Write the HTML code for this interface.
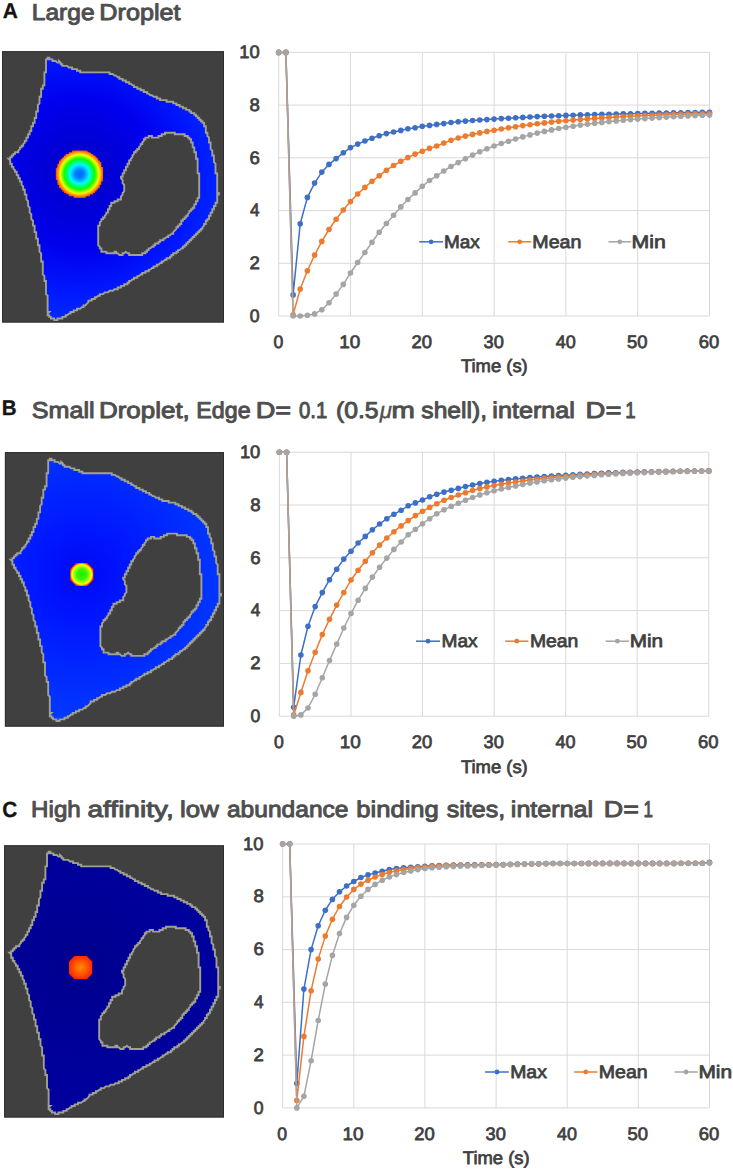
<!DOCTYPE html>
<html><head><meta charset="utf-8"><title>Figure</title>
<style>
html,body{margin:0;padding:0;background:#fff;}
svg{display:block;}
text{font-family:"Liberation Sans",sans-serif;text-rendering:geometricPrecision;}
</style></head><body>
<svg width="733" height="1169" viewBox="0 0 733 1169">
<defs>
<filter id="soft" color-interpolation-filters="sRGB" x="-5%" y="-5%" width="110%" height="110%"><feGaussianBlur stdDeviation="0.45"/></filter>
<radialGradient id="cA" gradientUnits="userSpaceOnUse" cx="77.6" cy="122.6" r="170">
<stop offset="0" stop-color="#0000cc"/><stop offset="0.2" stop-color="#0000d6"/><stop offset="0.45" stop-color="#0000ee"/>
<stop offset="0.7" stop-color="#0018ff"/><stop offset="1" stop-color="#0038ff"/>
</radialGradient>
<radialGradient id="cB" gradientUnits="userSpaceOnUse" cx="77.6" cy="122.6" r="170">
<stop offset="0" stop-color="#0008f4"/><stop offset="0.3" stop-color="#0018ff"/><stop offset="0.7" stop-color="#0030ff"/><stop offset="1" stop-color="#0040ff"/>
</radialGradient>
<radialGradient id="cC" gradientUnits="userSpaceOnUse" cx="77.6" cy="122.6" r="170">
<stop offset="0" stop-color="#00008c"/><stop offset="0.4" stop-color="#000098"/><stop offset="1" stop-color="#0000a0"/>
</radialGradient>
<radialGradient id="dA" gradientUnits="userSpaceOnUse" cx="77.6" cy="122.8" r="24.2">
<stop offset="0" stop-color="#0068ff"/><stop offset="0.18" stop-color="#0080ff"/><stop offset="0.4" stop-color="#00f8ff"/>
<stop offset="0.52" stop-color="#00ff70"/><stop offset="0.64" stop-color="#10ff00"/><stop offset="0.8" stop-color="#f0ff00"/>
<stop offset="0.9" stop-color="#ff9800"/><stop offset="1" stop-color="#ff3800"/>
</radialGradient>
<radialGradient id="dB" gradientUnits="userSpaceOnUse" cx="77.6" cy="122.39999999999999" r="12.2">
<stop offset="0" stop-color="#10f000"/><stop offset="0.42" stop-color="#40f400"/><stop offset="0.66" stop-color="#a8ff00"/>
<stop offset="0.8" stop-color="#ffff10"/><stop offset="0.89" stop-color="#ffa000"/><stop offset="0.97" stop-color="#ff3000"/><stop offset="1" stop-color="#ff2000"/>
</radialGradient>
<radialGradient id="dC" gradientUnits="userSpaceOnUse" cx="77.6" cy="122.39999999999999" r="13.2">
<stop offset="0" stop-color="#ff8c00"/><stop offset="0.5" stop-color="#ff5800"/><stop offset="1" stop-color="#ff1c00"/>
</radialGradient>
</defs>
<rect width="733" height="1169" fill="#ffffff"/>
<text transform="translate(2.71,18.30) scale(0.9793,1)" font-size="21.3" font-weight="bold" fill="#141414" stroke="#141414" stroke-width="0.3">A</text>
<text transform="translate(31.78,19.90) scale(1.0773,1)" font-size="22.8" fill="#4e4e4e" stroke="#4e4e4e" stroke-width="0.95" stroke-linejoin="round">Large</text>
<text transform="translate(99.34,19.90) scale(1.1059,1)" font-size="22.8" fill="#4e4e4e" stroke="#4e4e4e" stroke-width="0.95" stroke-linejoin="round">Droplet</text>
<text transform="translate(1.69,414.95) scale(0.9660,1)" font-size="21.3" font-weight="bold" fill="#141414" stroke="#141414" stroke-width="0.3">B</text>
<text transform="translate(31.85,417.70) scale(1.1027,1)" font-size="22.8" fill="#4e4e4e" stroke="#4e4e4e" stroke-width="0.95" stroke-linejoin="round">Small</text>
<text transform="translate(98.99,417.70) scale(1.1375,1)" font-size="22.8" fill="#4e4e4e" stroke="#4e4e4e" stroke-width="0.95" stroke-linejoin="round">Droplet,</text>
<text transform="translate(196.37,417.70) scale(1.0185,1)" font-size="22.8" fill="#4e4e4e" stroke="#4e4e4e" stroke-width="0.95" stroke-linejoin="round">Edge</text>
<text transform="translate(255.72,417.70) scale(1.1891,1)" font-size="22.8" fill="#4e4e4e" stroke="#4e4e4e" stroke-width="0.95" stroke-linejoin="round">D=</text>
<text transform="translate(299.05,417.70) scale(0.8918,1)" font-size="22.8" fill="#4e4e4e" stroke="#4e4e4e" stroke-width="0.95" stroke-linejoin="round">0.1</text>
<text transform="translate(335.92,417.70) scale(1.0834,1)" font-size="22.8" fill="#4e4e4e" stroke="#4e4e4e" stroke-width="0.95" stroke-linejoin="round">(0.5</text>
<text transform="translate(379.63,417.70) scale(0.9692,1)" font-size="22.8" font-style="italic" fill="#505050" stroke="#505050" stroke-width="0.4">μ</text>
<text transform="translate(391.57,417.70) scale(1.2294,1)" font-size="22.8" fill="#4e4e4e" stroke="#4e4e4e" stroke-width="0.95" stroke-linejoin="round">m</text>
<text transform="translate(421.33,417.70) scale(1.0797,1)" font-size="22.8" fill="#4e4e4e" stroke="#4e4e4e" stroke-width="0.95" stroke-linejoin="round">shell),</text>
<text transform="translate(492.29,417.70) scale(1.1052,1)" font-size="22.8" fill="#4e4e4e" stroke="#4e4e4e" stroke-width="0.95" stroke-linejoin="round">internal</text>
<text transform="translate(585.59,417.70) scale(1.2036,1)" font-size="22.8" fill="#4e4e4e" stroke="#4e4e4e" stroke-width="0.95" stroke-linejoin="round">D=</text>
<text transform="translate(625.18,417.70) scale(0.8186,1)" font-size="22.8" fill="#4e4e4e" stroke="#4e4e4e" stroke-width="0.95" stroke-linejoin="round">1</text>
<text transform="translate(2.19,817.30) scale(0.9424,1)" font-size="22" font-weight="bold" fill="#141414" stroke="#141414" stroke-width="0.3">C</text>
<text transform="translate(31.11,816.95) scale(1.0599,1)" font-size="22.8" fill="#4e4e4e" stroke="#4e4e4e" stroke-width="0.95" stroke-linejoin="round">High</text>
<text transform="translate(87.49,816.95) scale(1.2294,1)" font-size="22.8" fill="#4e4e4e" stroke="#4e4e4e" stroke-width="0.95" stroke-linejoin="round">affinity,</text>
<text transform="translate(180.07,816.95) scale(1.1319,1)" font-size="22.8" fill="#4e4e4e" stroke="#4e4e4e" stroke-width="0.95" stroke-linejoin="round">low</text>
<text transform="translate(226.96,816.95) scale(1.0774,1)" font-size="22.8" fill="#4e4e4e" stroke="#4e4e4e" stroke-width="0.95" stroke-linejoin="round">abundance</text>
<text transform="translate(356.28,816.95) scale(1.1217,1)" font-size="22.8" fill="#4e4e4e" stroke="#4e4e4e" stroke-width="0.95" stroke-linejoin="round">binding</text>
<text transform="translate(446.73,816.95) scale(1.0985,1)" font-size="22.8" fill="#4e4e4e" stroke="#4e4e4e" stroke-width="0.95" stroke-linejoin="round">sites,</text>
<text transform="translate(510.80,816.95) scale(1.1010,1)" font-size="22.8" fill="#4e4e4e" stroke="#4e4e4e" stroke-width="0.95" stroke-linejoin="round">internal</text>
<text transform="translate(603.83,816.95) scale(1.1782,1)" font-size="22.8" fill="#4e4e4e" stroke="#4e4e4e" stroke-width="0.95" stroke-linejoin="round">D=</text>
<text transform="translate(643.47,816.95) scale(0.7442,1)" font-size="22.8" fill="#4e4e4e" stroke="#4e4e4e" stroke-width="0.95" stroke-linejoin="round">1</text>
<g>
<rect x="2.0" y="51.2" width="222.0" height="271.3" fill="#404040"/>
<rect x="2.5" y="51.7" width="221.0" height="270.3" fill="none" stroke="#2f2f2f" stroke-width="1"/>
<g transform="translate(2.0,51.2)" filter="url(#soft)">
<path d="M45.6,6.5 L47.3,6.5 L47.3,8.2 L48.9,8.2 L50.5,8.2 L50.5,9.8 L52.2,9.8 L53.8,9.8 L55.4,11.4 L57.0,11.4 L57.0,9.8 L58.7,11.4 L58.7,13.0 L60.3,13.0 L60.3,14.7 L61.9,14.7 L63.6,14.7 L65.2,14.7 L66.8,16.3 L68.5,16.3 L70.1,16.3 L70.1,17.9 L71.7,17.9 L73.3,17.9 L75.0,17.9 L75.0,19.6 L76.6,19.6 L78.2,19.6 L78.2,21.2 L79.9,21.2 L81.5,21.2 L83.1,21.2 L84.8,21.2 L86.4,21.2 L88.0,21.2 L89.7,21.2 L91.3,21.2 L92.9,21.2 L94.5,21.2 L96.2,21.2 L97.8,21.2 L99.4,21.2 L101.1,21.2 L102.7,21.2 L104.3,21.2 L106.0,21.2 L107.6,21.2 L107.6,22.8 L109.2,22.8 L110.8,22.8 L112.5,24.4 L114.1,24.4 L115.7,26.1 L117.4,26.1 L117.4,27.7 L119.0,27.7 L120.6,27.7 L120.6,29.3 L122.2,29.3 L123.9,29.3 L123.9,31.0 L125.5,31.0 L127.1,31.0 L127.1,32.6 L128.8,32.6 L130.4,34.2 L132.0,34.2 L132.0,35.9 L133.7,35.9 L135.3,35.9 L135.3,37.5 L136.9,37.5 L138.6,37.5 L138.6,39.1 L140.2,39.1 L141.8,39.1 L141.8,40.8 L143.4,40.8 L145.1,40.8 L145.1,42.4 L146.7,42.4 L148.3,44.0 L150.0,44.0 L151.6,45.6 L153.2,45.6 L154.8,45.6 L154.8,47.3 L156.5,47.3 L158.1,47.3 L158.1,48.9 L159.7,48.9 L161.4,48.9 L163.0,48.9 L164.6,48.9 L164.6,50.5 L166.3,50.5 L167.9,50.5 L169.5,50.5 L171.2,50.5 L171.2,52.2 L172.8,52.2 L174.4,52.2 L174.4,53.8 L176.0,53.8 L177.7,53.8 L177.7,55.4 L179.3,55.4 L180.9,55.4 L180.9,57.0 L182.6,57.0 L184.2,57.0 L184.2,58.7 L185.8,58.7 L187.4,58.7 L187.4,60.3 L189.1,60.3 L189.1,61.9 L190.7,61.9 L192.3,61.9 L192.3,63.6 L194.0,63.6 L194.0,65.2 L195.6,65.2 L195.6,66.8 L197.2,66.8 L197.2,68.5 L198.9,68.5 L198.9,70.1 L200.5,70.1 L200.5,71.7 L202.1,71.7 L202.1,73.3 L202.1,75.0 L203.8,75.0 L203.8,76.6 L203.8,78.2 L203.8,79.9 L203.8,81.5 L205.4,81.5 L205.4,83.1 L205.4,84.8 L207.0,86.4 L207.0,88.0 L207.0,89.7 L207.0,91.3 L208.6,91.3 L208.6,92.9 L208.6,94.5 L208.6,96.2 L208.6,97.8 L210.3,99.4 L210.3,101.1 L210.3,102.7 L210.3,104.3 L211.9,104.3 L211.9,106.0 L211.9,107.6 L211.9,109.2 L211.9,110.8 L213.5,112.5 L213.5,114.1 L213.5,115.7 L213.5,117.4 L213.5,119.0 L213.5,120.6 L213.5,122.2 L215.2,122.2 L215.2,123.9 L215.2,125.5 L215.2,127.1 L215.2,128.8 L215.2,130.4 L215.2,132.0 L215.2,133.7 L215.2,135.3 L215.2,136.9 L215.2,138.6 L215.2,140.2 L215.2,141.8 L216.8,141.8 L216.8,143.4 L215.2,143.4 L215.2,145.1 L215.2,146.7 L215.2,148.3 L215.2,150.0 L215.2,151.6 L213.5,151.6 L213.5,153.2 L213.5,154.8 L211.9,154.8 L211.9,156.5 L211.9,158.1 L210.3,158.1 L210.3,159.7 L210.3,161.4 L208.6,161.4 L208.6,163.0 L208.6,164.6 L207.0,164.6 L207.0,166.3 L207.0,167.9 L205.4,167.9 L205.4,169.5 L203.8,169.5 L203.8,171.2 L203.8,172.8 L202.1,172.8 L202.1,174.4 L200.5,176.0 L200.5,177.7 L198.9,177.7 L198.9,179.3 L197.2,179.3 L197.2,180.9 L195.6,180.9 L195.6,182.6 L194.0,182.6 L194.0,184.2 L192.3,184.2 L192.3,185.8 L190.7,185.8 L190.7,187.4 L189.1,187.4 L189.1,189.1 L187.4,189.1 L187.4,190.7 L185.8,190.7 L185.8,192.3 L184.2,192.3 L184.2,194.0 L182.6,194.0 L182.6,195.6 L180.9,195.6 L180.9,197.2 L179.3,197.2 L177.7,198.9 L176.0,198.9 L176.0,200.5 L174.4,200.5 L174.4,202.1 L172.8,202.1 L171.2,202.1 L171.2,203.8 L169.5,203.8 L169.5,205.4 L167.9,205.4 L167.9,207.0 L166.3,207.0 L164.6,207.0 L164.6,208.6 L163.0,208.6 L161.4,210.3 L159.7,210.3 L159.7,211.9 L158.1,211.9 L156.5,213.5 L154.8,213.5 L154.8,215.2 L153.2,215.2 L151.6,215.2 L151.6,216.8 L150.0,216.8 L148.3,218.4 L146.7,218.4 L146.7,220.1 L145.1,220.1 L143.4,220.1 L143.4,221.7 L141.8,221.7 L140.2,221.7 L140.2,223.3 L138.6,223.3 L136.9,224.9 L135.3,224.9 L135.3,226.6 L133.7,226.6 L132.0,226.6 L132.0,228.2 L130.4,228.2 L128.8,229.8 L127.1,229.8 L127.1,231.5 L125.5,231.5 L125.5,233.1 L123.9,233.1 L122.2,233.1 L122.2,234.7 L120.6,234.7 L119.0,234.7 L119.0,236.3 L117.4,236.3 L115.7,236.3 L115.7,238.0 L114.1,238.0 L112.5,238.0 L110.8,239.6 L109.2,239.6 L107.6,239.6 L106.0,241.2 L104.3,241.2 L102.7,241.2 L101.1,242.9 L99.4,242.9 L97.8,242.9 L97.8,244.5 L96.2,244.5 L94.5,246.1 L92.9,246.1 L92.9,247.8 L91.3,247.8 L89.7,247.8 L89.7,249.4 L88.0,249.4 L86.4,249.4 L86.4,251.0 L84.8,252.7 L83.1,254.3 L81.5,254.3 L81.5,255.9 L79.9,255.9 L78.2,257.5 L76.6,257.5 L75.0,257.5 L75.0,259.2 L73.3,259.2 L71.7,259.2 L71.7,260.8 L70.1,260.8 L68.5,260.8 L68.5,262.4 L66.8,262.4 L65.2,264.1 L63.6,264.1 L63.6,265.7 L61.9,265.7 L60.3,265.7 L60.3,267.3 L58.7,267.3 L57.0,267.3 L55.4,267.3 L55.4,268.9 L53.8,268.9 L52.2,268.9 L52.2,267.3 L50.5,267.3 L48.9,267.3 L48.9,265.7 L47.3,265.7 L47.3,264.1 L45.6,264.1 L45.6,262.4 L47.3,260.8 L45.6,260.8 L45.6,259.2 L45.6,257.5 L45.6,255.9 L45.6,254.3 L45.6,252.7 L45.6,251.0 L45.6,249.4 L45.6,247.8 L45.6,246.1 L45.6,244.5 L44.0,242.9 L44.0,241.2 L44.0,239.6 L44.0,238.0 L44.0,236.3 L44.0,234.7 L44.0,233.1 L44.0,231.5 L44.0,229.8 L42.4,229.8 L42.4,228.2 L42.4,226.6 L42.4,224.9 L40.8,223.3 L40.8,221.7 L40.8,220.1 L40.8,218.4 L40.8,216.8 L40.8,215.2 L40.8,213.5 L40.8,211.9 L40.8,210.3 L39.1,210.3 L39.1,208.6 L39.1,207.0 L39.1,205.4 L39.1,203.8 L39.1,202.1 L37.5,200.5 L37.5,198.9 L37.5,197.2 L37.5,195.6 L37.5,194.0 L35.9,194.0 L35.9,192.3 L35.9,190.7 L35.9,189.1 L35.9,187.4 L34.2,187.4 L34.2,185.8 L34.2,184.2 L34.2,182.6 L34.2,180.9 L32.6,180.9 L32.6,179.3 L32.6,177.7 L32.6,176.0 L32.6,174.4 L31.0,174.4 L31.0,172.8 L31.0,171.2 L31.0,169.5 L29.3,167.9 L29.3,166.3 L29.3,164.6 L29.3,163.0 L27.7,161.4 L27.7,159.7 L27.7,158.1 L27.7,156.5 L26.1,154.8 L26.1,153.2 L26.1,151.6 L26.1,150.0 L24.4,148.3 L24.4,146.7 L24.4,145.1 L24.4,143.4 L22.8,143.4 L22.8,141.8 L22.8,140.2 L22.8,138.6 L21.2,138.6 L21.2,136.9 L21.2,135.3 L19.6,133.7 L19.6,132.0 L19.6,130.4 L17.9,130.4 L17.9,128.8 L17.9,127.1 L16.3,127.1 L16.3,125.5 L16.3,123.9 L14.7,123.9 L14.7,122.2 L14.7,120.6 L13.0,120.6 L13.0,119.0 L11.4,117.4 L11.4,115.7 L9.8,115.7 L9.8,114.1 L9.8,112.5 L8.2,112.5 L8.2,110.8 L8.2,109.2 L6.5,107.6 L8.2,107.6 L8.2,106.0 L9.8,106.0 L9.8,104.3 L11.4,104.3 L11.4,102.7 L13.0,102.7 L13.0,101.1 L14.7,101.1 L16.3,101.1 L16.3,99.4 L17.9,97.8 L17.9,96.2 L19.6,96.2 L19.6,94.5 L21.2,94.5 L21.2,92.9 L22.8,91.3 L22.8,89.7 L24.4,89.7 L24.4,88.0 L24.4,86.4 L26.1,86.4 L26.1,84.8 L26.1,83.1 L27.7,83.1 L27.7,81.5 L27.7,79.9 L29.3,79.9 L29.3,78.2 L29.3,76.6 L29.3,75.0 L31.0,75.0 L31.0,73.3 L31.0,71.7 L32.6,71.7 L32.6,70.1 L32.6,68.5 L32.6,66.8 L34.2,66.8 L34.2,65.2 L34.2,63.6 L34.2,61.9 L34.2,60.3 L35.9,60.3 L35.9,58.7 L35.9,57.0 L35.9,55.4 L35.9,53.8 L37.5,52.2 L37.5,50.5 L37.5,48.9 L37.5,47.3 L37.5,45.6 L39.1,45.6 L39.1,44.0 L39.1,42.4 L39.1,40.8 L39.1,39.1 L39.1,37.5 L40.8,37.5 L40.8,35.9 L40.8,34.2 L42.4,34.2 L42.4,32.6 L42.4,31.0 L42.4,29.3 L42.4,27.7 L42.4,26.1 L42.4,24.4 L42.4,22.8 L42.4,21.2 L44.0,21.2 L44.0,19.6 L44.0,17.9 L44.0,16.3 L44.0,14.7 L44.0,13.0 L44.0,11.4 L44.0,9.8 L44.0,8.2 L45.6,8.2 L45.6,6.5Z M119.0,127.1 L119.0,125.5 L120.6,125.5 L120.6,123.9 L120.6,122.2 L122.2,122.2 L122.2,120.6 L122.2,119.0 L123.9,119.0 L123.9,117.4 L123.9,115.7 L125.5,115.7 L125.5,114.1 L125.5,112.5 L127.1,112.5 L127.1,110.8 L127.1,109.2 L128.8,109.2 L128.8,107.6 L130.4,106.0 L130.4,104.3 L132.0,102.7 L132.0,101.1 L133.7,101.1 L133.7,99.4 L135.3,99.4 L135.3,97.8 L136.9,97.8 L136.9,96.2 L138.6,94.5 L138.6,92.9 L140.2,92.9 L140.2,91.3 L141.8,89.7 L141.8,88.0 L143.4,88.0 L143.4,86.4 L145.1,86.4 L146.7,86.4 L146.7,84.8 L148.3,84.8 L150.0,84.8 L150.0,86.4 L151.6,86.4 L153.2,86.4 L154.8,86.4 L156.5,86.4 L156.5,84.8 L158.1,84.8 L159.7,84.8 L159.7,83.1 L161.4,83.1 L163.0,83.1 L163.0,81.5 L164.6,81.5 L166.3,81.5 L167.9,81.5 L169.5,81.5 L171.2,81.5 L172.8,81.5 L172.8,83.1 L174.4,83.1 L176.0,83.1 L177.7,83.1 L179.3,83.1 L180.9,83.1 L182.6,83.1 L182.6,84.8 L184.2,84.8 L185.8,84.8 L185.8,86.4 L187.4,86.4 L187.4,88.0 L189.1,88.0 L189.1,89.7 L189.1,91.3 L190.7,91.3 L190.7,92.9 L190.7,94.5 L190.7,96.2 L192.3,96.2 L192.3,97.8 L192.3,99.4 L192.3,101.1 L194.0,101.1 L194.0,102.7 L194.0,104.3 L194.0,106.0 L194.0,107.6 L195.6,107.6 L195.6,109.2 L195.6,110.8 L195.6,112.5 L195.6,114.1 L195.6,115.7 L195.6,117.4 L195.6,119.0 L195.6,120.6 L195.6,122.2 L197.2,122.2 L197.2,123.9 L197.2,125.5 L197.2,127.1 L197.2,128.8 L197.2,130.4 L197.2,132.0 L197.2,133.7 L197.2,135.3 L197.2,136.9 L197.2,138.6 L197.2,140.2 L197.2,141.8 L197.2,143.4 L197.2,145.1 L197.2,146.7 L195.6,146.7 L195.6,148.3 L195.6,150.0 L194.0,150.0 L194.0,151.6 L194.0,153.2 L192.3,153.2 L192.3,154.8 L192.3,156.5 L190.7,156.5 L190.7,158.1 L189.1,158.1 L189.1,159.7 L187.4,159.7 L187.4,161.4 L185.8,163.0 L185.8,164.6 L184.2,164.6 L184.2,166.3 L182.6,166.3 L182.6,167.9 L180.9,167.9 L180.9,169.5 L179.3,169.5 L179.3,171.2 L179.3,172.8 L177.7,172.8 L177.7,174.4 L176.0,174.4 L176.0,176.0 L174.4,176.0 L174.4,177.7 L172.8,179.3 L171.2,180.9 L171.2,182.6 L169.5,182.6 L167.9,184.2 L166.3,184.2 L166.3,185.8 L164.6,185.8 L163.0,187.4 L161.4,187.4 L161.4,189.1 L159.7,189.1 L158.1,189.1 L158.1,190.7 L156.5,190.7 L156.5,192.3 L154.8,192.3 L153.2,192.3 L153.2,194.0 L151.6,194.0 L151.6,195.6 L150.0,195.6 L148.3,197.2 L146.7,197.2 L146.7,198.9 L145.1,198.9 L145.1,200.5 L143.4,200.5 L143.4,202.1 L141.8,202.1 L140.2,202.1 L140.2,203.8 L138.6,203.8 L136.9,203.8 L135.3,203.8 L133.7,203.8 L132.0,203.8 L130.4,203.8 L128.8,203.8 L127.1,203.8 L127.1,202.1 L125.5,202.1 L123.9,200.5 L122.2,202.1 L120.6,202.1 L120.6,203.8 L119.0,203.8 L117.4,203.8 L115.7,202.1 L114.1,202.1 L114.1,200.5 L112.5,200.5 L112.5,202.1 L110.8,202.1 L109.2,202.1 L107.6,202.1 L106.0,202.1 L104.3,202.1 L104.3,200.5 L102.7,200.5 L101.1,200.5 L99.4,200.5 L99.4,198.9 L99.4,197.2 L97.8,197.2 L97.8,195.6 L96.2,194.0 L96.2,192.3 L96.2,190.7 L96.2,189.1 L96.2,187.4 L96.2,185.8 L96.2,184.2 L96.2,182.6 L96.2,180.9 L96.2,179.3 L96.2,177.7 L96.2,176.0 L96.2,174.4 L97.8,174.4 L97.8,172.8 L97.8,171.2 L99.4,169.5 L99.4,167.9 L101.1,167.9 L101.1,166.3 L102.7,166.3 L102.7,164.6 L104.3,163.0 L104.3,161.4 L106.0,161.4 L106.0,159.7 L106.0,158.1 L107.6,158.1 L107.6,156.5 L107.6,154.8 L109.2,154.8 L109.2,153.2 L109.2,151.6 L110.8,151.6 L112.5,151.6 L112.5,150.0 L114.1,150.0 L115.7,150.0 L115.7,148.3 L117.4,148.3 L119.0,148.3 L119.0,146.7 L119.0,145.1 L120.6,143.4 L120.6,141.8 L122.2,140.2 L122.2,138.6 L122.2,136.9 L122.2,135.3 L122.2,133.7 L120.6,132.0 L120.6,130.4 L120.6,128.8 L119.0,127.1Z" fill="url(#cA)" fill-rule="evenodd" stroke="#a0a093" stroke-width="1.9" stroke-linejoin="miter"/>
<path d="M101.1,122.2 L101.1,123.9 L101.1,125.5 L101.1,127.1 L101.1,128.8 L101.1,130.4 L99.4,130.4 L99.4,132.0 L99.4,133.7 L97.8,133.7 L97.8,135.3 L97.8,136.9 L96.2,136.9 L96.2,138.6 L94.5,138.6 L94.5,140.2 L92.9,140.2 L92.9,141.8 L91.3,141.8 L91.3,143.4 L89.7,143.4 L88.0,143.4 L88.0,145.1 L86.4,145.1 L84.8,145.1 L83.1,146.7 L81.5,146.7 L79.9,146.7 L78.2,146.7 L76.6,146.7 L75.0,146.7 L73.3,146.7 L71.7,146.7 L71.7,145.1 L70.1,145.1 L68.5,145.1 L66.8,145.1 L66.8,143.4 L65.2,143.4 L63.6,141.8 L61.9,141.8 L61.9,140.2 L60.3,140.2 L60.3,138.6 L58.7,138.6 L58.7,136.9 L57.0,136.9 L57.0,135.3 L57.0,133.7 L55.4,133.7 L55.4,132.0 L55.4,130.4 L55.4,128.8 L53.8,128.8 L53.8,127.1 L53.8,125.5 L53.8,123.9 L53.8,122.2 L53.8,120.6 L53.8,119.0 L53.8,117.4 L55.4,115.7 L55.4,114.1 L55.4,112.5 L57.0,112.5 L57.0,110.8 L57.0,109.2 L58.7,109.2 L58.7,107.6 L60.3,107.6 L60.3,106.0 L61.9,106.0 L61.9,104.3 L63.6,104.3 L63.6,102.7 L65.2,102.7 L66.8,102.7 L66.8,101.1 L68.5,101.1 L70.1,101.1 L70.1,99.4 L71.7,99.4 L73.3,99.4 L75.0,99.4 L76.6,99.4 L78.2,99.4 L79.9,99.4 L81.5,99.4 L83.1,99.4 L84.8,99.4 L86.4,101.1 L88.0,101.1 L89.7,102.7 L91.3,102.7 L91.3,104.3 L92.9,104.3 L94.5,106.0 L96.2,107.6 L96.2,109.2 L97.8,109.2 L97.8,110.8 L99.4,110.8 L99.4,112.5 L99.4,114.1 L99.4,115.7 L101.1,115.7 L101.1,117.4 L101.1,119.0 L101.1,120.6 L101.1,122.2Z" fill="url(#dA)"/>
</g>
</g>
<g>
<rect x="4.9" y="452.1" width="219.1" height="274.5" fill="#404040"/>
<rect x="5.4" y="452.6" width="218.1" height="273.5" fill="none" stroke="#2f2f2f" stroke-width="1"/>
<g transform="translate(4.2,452.1)" filter="url(#soft)">
<path d="M45.6,6.5 L47.3,6.5 L47.3,8.2 L48.9,8.2 L50.5,8.2 L50.5,9.8 L52.2,9.8 L53.8,9.8 L55.4,11.4 L57.0,11.4 L57.0,9.8 L58.7,11.4 L58.7,13.0 L60.3,13.0 L60.3,14.7 L61.9,14.7 L63.6,14.7 L65.2,14.7 L66.8,16.3 L68.5,16.3 L70.1,16.3 L70.1,17.9 L71.7,17.9 L73.3,17.9 L75.0,17.9 L75.0,19.6 L76.6,19.6 L78.2,19.6 L78.2,21.2 L79.9,21.2 L81.5,21.2 L83.1,21.2 L84.8,21.2 L86.4,21.2 L88.0,21.2 L89.7,21.2 L91.3,21.2 L92.9,21.2 L94.5,21.2 L96.2,21.2 L97.8,21.2 L99.4,21.2 L101.1,21.2 L102.7,21.2 L104.3,21.2 L106.0,21.2 L107.6,21.2 L107.6,22.8 L109.2,22.8 L110.8,22.8 L112.5,24.4 L114.1,24.4 L115.7,26.1 L117.4,26.1 L117.4,27.7 L119.0,27.7 L120.6,27.7 L120.6,29.3 L122.2,29.3 L123.9,29.3 L123.9,31.0 L125.5,31.0 L127.1,31.0 L127.1,32.6 L128.8,32.6 L130.4,34.2 L132.0,34.2 L132.0,35.9 L133.7,35.9 L135.3,35.9 L135.3,37.5 L136.9,37.5 L138.6,37.5 L138.6,39.1 L140.2,39.1 L141.8,39.1 L141.8,40.8 L143.4,40.8 L145.1,40.8 L145.1,42.4 L146.7,42.4 L148.3,44.0 L150.0,44.0 L151.6,45.6 L153.2,45.6 L154.8,45.6 L154.8,47.3 L156.5,47.3 L158.1,47.3 L158.1,48.9 L159.7,48.9 L161.4,48.9 L163.0,48.9 L164.6,48.9 L164.6,50.5 L166.3,50.5 L167.9,50.5 L169.5,50.5 L171.2,50.5 L171.2,52.2 L172.8,52.2 L174.4,52.2 L174.4,53.8 L176.0,53.8 L177.7,53.8 L177.7,55.4 L179.3,55.4 L180.9,55.4 L180.9,57.0 L182.6,57.0 L184.2,57.0 L184.2,58.7 L185.8,58.7 L187.4,58.7 L187.4,60.3 L189.1,60.3 L189.1,61.9 L190.7,61.9 L192.3,61.9 L192.3,63.6 L194.0,63.6 L194.0,65.2 L195.6,65.2 L195.6,66.8 L197.2,66.8 L197.2,68.5 L198.9,68.5 L198.9,70.1 L200.5,70.1 L200.5,71.7 L202.1,71.7 L202.1,73.3 L202.1,75.0 L203.8,75.0 L203.8,76.6 L203.8,78.2 L203.8,79.9 L203.8,81.5 L205.4,81.5 L205.4,83.1 L205.4,84.8 L207.0,86.4 L207.0,88.0 L207.0,89.7 L207.0,91.3 L208.6,91.3 L208.6,92.9 L208.6,94.5 L208.6,96.2 L208.6,97.8 L210.3,99.4 L210.3,101.1 L210.3,102.7 L210.3,104.3 L211.9,104.3 L211.9,106.0 L211.9,107.6 L211.9,109.2 L211.9,110.8 L213.5,112.5 L213.5,114.1 L213.5,115.7 L213.5,117.4 L213.5,119.0 L213.5,120.6 L213.5,122.2 L215.2,122.2 L215.2,123.9 L215.2,125.5 L215.2,127.1 L215.2,128.8 L215.2,130.4 L215.2,132.0 L215.2,133.7 L215.2,135.3 L215.2,136.9 L215.2,138.6 L215.2,140.2 L215.2,141.8 L216.8,141.8 L216.8,143.4 L215.2,143.4 L215.2,145.1 L215.2,146.7 L215.2,148.3 L215.2,150.0 L215.2,151.6 L213.5,151.6 L213.5,153.2 L213.5,154.8 L211.9,154.8 L211.9,156.5 L211.9,158.1 L210.3,158.1 L210.3,159.7 L210.3,161.4 L208.6,161.4 L208.6,163.0 L208.6,164.6 L207.0,164.6 L207.0,166.3 L207.0,167.9 L205.4,167.9 L205.4,169.5 L203.8,169.5 L203.8,171.2 L203.8,172.8 L202.1,172.8 L202.1,174.4 L200.5,176.0 L200.5,177.7 L198.9,177.7 L198.9,179.3 L197.2,179.3 L197.2,180.9 L195.6,180.9 L195.6,182.6 L194.0,182.6 L194.0,184.2 L192.3,184.2 L192.3,185.8 L190.7,185.8 L190.7,187.4 L189.1,187.4 L189.1,189.1 L187.4,189.1 L187.4,190.7 L185.8,190.7 L185.8,192.3 L184.2,192.3 L184.2,194.0 L182.6,194.0 L182.6,195.6 L180.9,195.6 L180.9,197.2 L179.3,197.2 L177.7,198.9 L176.0,198.9 L176.0,200.5 L174.4,200.5 L174.4,202.1 L172.8,202.1 L171.2,202.1 L171.2,203.8 L169.5,203.8 L169.5,205.4 L167.9,205.4 L167.9,207.0 L166.3,207.0 L164.6,207.0 L164.6,208.6 L163.0,208.6 L161.4,210.3 L159.7,210.3 L159.7,211.9 L158.1,211.9 L156.5,213.5 L154.8,213.5 L154.8,215.2 L153.2,215.2 L151.6,215.2 L151.6,216.8 L150.0,216.8 L148.3,218.4 L146.7,218.4 L146.7,220.1 L145.1,220.1 L143.4,220.1 L143.4,221.7 L141.8,221.7 L140.2,221.7 L140.2,223.3 L138.6,223.3 L136.9,224.9 L135.3,224.9 L135.3,226.6 L133.7,226.6 L132.0,226.6 L132.0,228.2 L130.4,228.2 L128.8,229.8 L127.1,229.8 L127.1,231.5 L125.5,231.5 L125.5,233.1 L123.9,233.1 L122.2,233.1 L122.2,234.7 L120.6,234.7 L119.0,234.7 L119.0,236.3 L117.4,236.3 L115.7,236.3 L115.7,238.0 L114.1,238.0 L112.5,238.0 L110.8,239.6 L109.2,239.6 L107.6,239.6 L106.0,241.2 L104.3,241.2 L102.7,241.2 L101.1,242.9 L99.4,242.9 L97.8,242.9 L97.8,244.5 L96.2,244.5 L94.5,246.1 L92.9,246.1 L92.9,247.8 L91.3,247.8 L89.7,247.8 L89.7,249.4 L88.0,249.4 L86.4,249.4 L86.4,251.0 L84.8,252.7 L83.1,254.3 L81.5,254.3 L81.5,255.9 L79.9,255.9 L78.2,257.5 L76.6,257.5 L75.0,257.5 L75.0,259.2 L73.3,259.2 L71.7,259.2 L71.7,260.8 L70.1,260.8 L68.5,260.8 L68.5,262.4 L66.8,262.4 L65.2,264.1 L63.6,264.1 L63.6,265.7 L61.9,265.7 L60.3,265.7 L60.3,267.3 L58.7,267.3 L57.0,267.3 L55.4,267.3 L55.4,268.9 L53.8,268.9 L52.2,268.9 L52.2,267.3 L50.5,267.3 L48.9,267.3 L48.9,265.7 L47.3,265.7 L47.3,264.1 L45.6,264.1 L45.6,262.4 L47.3,260.8 L45.6,260.8 L45.6,259.2 L45.6,257.5 L45.6,255.9 L45.6,254.3 L45.6,252.7 L45.6,251.0 L45.6,249.4 L45.6,247.8 L45.6,246.1 L45.6,244.5 L44.0,242.9 L44.0,241.2 L44.0,239.6 L44.0,238.0 L44.0,236.3 L44.0,234.7 L44.0,233.1 L44.0,231.5 L44.0,229.8 L42.4,229.8 L42.4,228.2 L42.4,226.6 L42.4,224.9 L40.8,223.3 L40.8,221.7 L40.8,220.1 L40.8,218.4 L40.8,216.8 L40.8,215.2 L40.8,213.5 L40.8,211.9 L40.8,210.3 L39.1,210.3 L39.1,208.6 L39.1,207.0 L39.1,205.4 L39.1,203.8 L39.1,202.1 L37.5,200.5 L37.5,198.9 L37.5,197.2 L37.5,195.6 L37.5,194.0 L35.9,194.0 L35.9,192.3 L35.9,190.7 L35.9,189.1 L35.9,187.4 L34.2,187.4 L34.2,185.8 L34.2,184.2 L34.2,182.6 L34.2,180.9 L32.6,180.9 L32.6,179.3 L32.6,177.7 L32.6,176.0 L32.6,174.4 L31.0,174.4 L31.0,172.8 L31.0,171.2 L31.0,169.5 L29.3,167.9 L29.3,166.3 L29.3,164.6 L29.3,163.0 L27.7,161.4 L27.7,159.7 L27.7,158.1 L27.7,156.5 L26.1,154.8 L26.1,153.2 L26.1,151.6 L26.1,150.0 L24.4,148.3 L24.4,146.7 L24.4,145.1 L24.4,143.4 L22.8,143.4 L22.8,141.8 L22.8,140.2 L22.8,138.6 L21.2,138.6 L21.2,136.9 L21.2,135.3 L19.6,133.7 L19.6,132.0 L19.6,130.4 L17.9,130.4 L17.9,128.8 L17.9,127.1 L16.3,127.1 L16.3,125.5 L16.3,123.9 L14.7,123.9 L14.7,122.2 L14.7,120.6 L13.0,120.6 L13.0,119.0 L11.4,117.4 L11.4,115.7 L9.8,115.7 L9.8,114.1 L9.8,112.5 L8.2,112.5 L8.2,110.8 L8.2,109.2 L6.5,107.6 L8.2,107.6 L8.2,106.0 L9.8,106.0 L9.8,104.3 L11.4,104.3 L11.4,102.7 L13.0,102.7 L13.0,101.1 L14.7,101.1 L16.3,101.1 L16.3,99.4 L17.9,97.8 L17.9,96.2 L19.6,96.2 L19.6,94.5 L21.2,94.5 L21.2,92.9 L22.8,91.3 L22.8,89.7 L24.4,89.7 L24.4,88.0 L24.4,86.4 L26.1,86.4 L26.1,84.8 L26.1,83.1 L27.7,83.1 L27.7,81.5 L27.7,79.9 L29.3,79.9 L29.3,78.2 L29.3,76.6 L29.3,75.0 L31.0,75.0 L31.0,73.3 L31.0,71.7 L32.6,71.7 L32.6,70.1 L32.6,68.5 L32.6,66.8 L34.2,66.8 L34.2,65.2 L34.2,63.6 L34.2,61.9 L34.2,60.3 L35.9,60.3 L35.9,58.7 L35.9,57.0 L35.9,55.4 L35.9,53.8 L37.5,52.2 L37.5,50.5 L37.5,48.9 L37.5,47.3 L37.5,45.6 L39.1,45.6 L39.1,44.0 L39.1,42.4 L39.1,40.8 L39.1,39.1 L39.1,37.5 L40.8,37.5 L40.8,35.9 L40.8,34.2 L42.4,34.2 L42.4,32.6 L42.4,31.0 L42.4,29.3 L42.4,27.7 L42.4,26.1 L42.4,24.4 L42.4,22.8 L42.4,21.2 L44.0,21.2 L44.0,19.6 L44.0,17.9 L44.0,16.3 L44.0,14.7 L44.0,13.0 L44.0,11.4 L44.0,9.8 L44.0,8.2 L45.6,8.2 L45.6,6.5Z M119.0,127.1 L119.0,125.5 L120.6,125.5 L120.6,123.9 L120.6,122.2 L122.2,122.2 L122.2,120.6 L122.2,119.0 L123.9,119.0 L123.9,117.4 L123.9,115.7 L125.5,115.7 L125.5,114.1 L125.5,112.5 L127.1,112.5 L127.1,110.8 L127.1,109.2 L128.8,109.2 L128.8,107.6 L130.4,106.0 L130.4,104.3 L132.0,102.7 L132.0,101.1 L133.7,101.1 L133.7,99.4 L135.3,99.4 L135.3,97.8 L136.9,97.8 L136.9,96.2 L138.6,94.5 L138.6,92.9 L140.2,92.9 L140.2,91.3 L141.8,89.7 L141.8,88.0 L143.4,88.0 L143.4,86.4 L145.1,86.4 L146.7,86.4 L146.7,84.8 L148.3,84.8 L150.0,84.8 L150.0,86.4 L151.6,86.4 L153.2,86.4 L154.8,86.4 L156.5,86.4 L156.5,84.8 L158.1,84.8 L159.7,84.8 L159.7,83.1 L161.4,83.1 L163.0,83.1 L163.0,81.5 L164.6,81.5 L166.3,81.5 L167.9,81.5 L169.5,81.5 L171.2,81.5 L172.8,81.5 L172.8,83.1 L174.4,83.1 L176.0,83.1 L177.7,83.1 L179.3,83.1 L180.9,83.1 L182.6,83.1 L182.6,84.8 L184.2,84.8 L185.8,84.8 L185.8,86.4 L187.4,86.4 L187.4,88.0 L189.1,88.0 L189.1,89.7 L189.1,91.3 L190.7,91.3 L190.7,92.9 L190.7,94.5 L190.7,96.2 L192.3,96.2 L192.3,97.8 L192.3,99.4 L192.3,101.1 L194.0,101.1 L194.0,102.7 L194.0,104.3 L194.0,106.0 L194.0,107.6 L195.6,107.6 L195.6,109.2 L195.6,110.8 L195.6,112.5 L195.6,114.1 L195.6,115.7 L195.6,117.4 L195.6,119.0 L195.6,120.6 L195.6,122.2 L197.2,122.2 L197.2,123.9 L197.2,125.5 L197.2,127.1 L197.2,128.8 L197.2,130.4 L197.2,132.0 L197.2,133.7 L197.2,135.3 L197.2,136.9 L197.2,138.6 L197.2,140.2 L197.2,141.8 L197.2,143.4 L197.2,145.1 L197.2,146.7 L195.6,146.7 L195.6,148.3 L195.6,150.0 L194.0,150.0 L194.0,151.6 L194.0,153.2 L192.3,153.2 L192.3,154.8 L192.3,156.5 L190.7,156.5 L190.7,158.1 L189.1,158.1 L189.1,159.7 L187.4,159.7 L187.4,161.4 L185.8,163.0 L185.8,164.6 L184.2,164.6 L184.2,166.3 L182.6,166.3 L182.6,167.9 L180.9,167.9 L180.9,169.5 L179.3,169.5 L179.3,171.2 L179.3,172.8 L177.7,172.8 L177.7,174.4 L176.0,174.4 L176.0,176.0 L174.4,176.0 L174.4,177.7 L172.8,179.3 L171.2,180.9 L171.2,182.6 L169.5,182.6 L167.9,184.2 L166.3,184.2 L166.3,185.8 L164.6,185.8 L163.0,187.4 L161.4,187.4 L161.4,189.1 L159.7,189.1 L158.1,189.1 L158.1,190.7 L156.5,190.7 L156.5,192.3 L154.8,192.3 L153.2,192.3 L153.2,194.0 L151.6,194.0 L151.6,195.6 L150.0,195.6 L148.3,197.2 L146.7,197.2 L146.7,198.9 L145.1,198.9 L145.1,200.5 L143.4,200.5 L143.4,202.1 L141.8,202.1 L140.2,202.1 L140.2,203.8 L138.6,203.8 L136.9,203.8 L135.3,203.8 L133.7,203.8 L132.0,203.8 L130.4,203.8 L128.8,203.8 L127.1,203.8 L127.1,202.1 L125.5,202.1 L123.9,200.5 L122.2,202.1 L120.6,202.1 L120.6,203.8 L119.0,203.8 L117.4,203.8 L115.7,202.1 L114.1,202.1 L114.1,200.5 L112.5,200.5 L112.5,202.1 L110.8,202.1 L109.2,202.1 L107.6,202.1 L106.0,202.1 L104.3,202.1 L104.3,200.5 L102.7,200.5 L101.1,200.5 L99.4,200.5 L99.4,198.9 L99.4,197.2 L97.8,197.2 L97.8,195.6 L96.2,194.0 L96.2,192.3 L96.2,190.7 L96.2,189.1 L96.2,187.4 L96.2,185.8 L96.2,184.2 L96.2,182.6 L96.2,180.9 L96.2,179.3 L96.2,177.7 L96.2,176.0 L96.2,174.4 L97.8,174.4 L97.8,172.8 L97.8,171.2 L99.4,169.5 L99.4,167.9 L101.1,167.9 L101.1,166.3 L102.7,166.3 L102.7,164.6 L104.3,163.0 L104.3,161.4 L106.0,161.4 L106.0,159.7 L106.0,158.1 L107.6,158.1 L107.6,156.5 L107.6,154.8 L109.2,154.8 L109.2,153.2 L109.2,151.6 L110.8,151.6 L112.5,151.6 L112.5,150.0 L114.1,150.0 L115.7,150.0 L115.7,148.3 L117.4,148.3 L119.0,148.3 L119.0,146.7 L119.0,145.1 L120.6,143.4 L120.6,141.8 L122.2,140.2 L122.2,138.6 L122.2,136.9 L122.2,135.3 L122.2,133.7 L120.6,132.0 L120.6,130.4 L120.6,128.8 L119.0,127.1Z" fill="url(#cB)" fill-rule="evenodd" stroke="#a0a093" stroke-width="1.9" stroke-linejoin="miter"/>
<polygon points="72.0,110.8 83.2,110.8 89.2,116.8 89.2,128.0 83.2,134.0 72.0,134.0 66.0,128.0 66.0,116.8" fill="url(#dB)"/>
</g>
</g>
<g>
<rect x="4.1" y="845.3" width="219.9" height="272.2" fill="#404040"/>
<rect x="4.6" y="845.8" width="218.9" height="271.2" fill="none" stroke="#2f2f2f" stroke-width="1"/>
<g transform="translate(3.0,845.2)" filter="url(#soft)">
<path d="M45.6,6.5 L47.3,6.5 L47.3,8.2 L48.9,8.2 L50.5,8.2 L50.5,9.8 L52.2,9.8 L53.8,9.8 L55.4,11.4 L57.0,11.4 L57.0,9.8 L58.7,11.4 L58.7,13.0 L60.3,13.0 L60.3,14.7 L61.9,14.7 L63.6,14.7 L65.2,14.7 L66.8,16.3 L68.5,16.3 L70.1,16.3 L70.1,17.9 L71.7,17.9 L73.3,17.9 L75.0,17.9 L75.0,19.6 L76.6,19.6 L78.2,19.6 L78.2,21.2 L79.9,21.2 L81.5,21.2 L83.1,21.2 L84.8,21.2 L86.4,21.2 L88.0,21.2 L89.7,21.2 L91.3,21.2 L92.9,21.2 L94.5,21.2 L96.2,21.2 L97.8,21.2 L99.4,21.2 L101.1,21.2 L102.7,21.2 L104.3,21.2 L106.0,21.2 L107.6,21.2 L107.6,22.8 L109.2,22.8 L110.8,22.8 L112.5,24.4 L114.1,24.4 L115.7,26.1 L117.4,26.1 L117.4,27.7 L119.0,27.7 L120.6,27.7 L120.6,29.3 L122.2,29.3 L123.9,29.3 L123.9,31.0 L125.5,31.0 L127.1,31.0 L127.1,32.6 L128.8,32.6 L130.4,34.2 L132.0,34.2 L132.0,35.9 L133.7,35.9 L135.3,35.9 L135.3,37.5 L136.9,37.5 L138.6,37.5 L138.6,39.1 L140.2,39.1 L141.8,39.1 L141.8,40.8 L143.4,40.8 L145.1,40.8 L145.1,42.4 L146.7,42.4 L148.3,44.0 L150.0,44.0 L151.6,45.6 L153.2,45.6 L154.8,45.6 L154.8,47.3 L156.5,47.3 L158.1,47.3 L158.1,48.9 L159.7,48.9 L161.4,48.9 L163.0,48.9 L164.6,48.9 L164.6,50.5 L166.3,50.5 L167.9,50.5 L169.5,50.5 L171.2,50.5 L171.2,52.2 L172.8,52.2 L174.4,52.2 L174.4,53.8 L176.0,53.8 L177.7,53.8 L177.7,55.4 L179.3,55.4 L180.9,55.4 L180.9,57.0 L182.6,57.0 L184.2,57.0 L184.2,58.7 L185.8,58.7 L187.4,58.7 L187.4,60.3 L189.1,60.3 L189.1,61.9 L190.7,61.9 L192.3,61.9 L192.3,63.6 L194.0,63.6 L194.0,65.2 L195.6,65.2 L195.6,66.8 L197.2,66.8 L197.2,68.5 L198.9,68.5 L198.9,70.1 L200.5,70.1 L200.5,71.7 L202.1,71.7 L202.1,73.3 L202.1,75.0 L203.8,75.0 L203.8,76.6 L203.8,78.2 L203.8,79.9 L203.8,81.5 L205.4,81.5 L205.4,83.1 L205.4,84.8 L207.0,86.4 L207.0,88.0 L207.0,89.7 L207.0,91.3 L208.6,91.3 L208.6,92.9 L208.6,94.5 L208.6,96.2 L208.6,97.8 L210.3,99.4 L210.3,101.1 L210.3,102.7 L210.3,104.3 L211.9,104.3 L211.9,106.0 L211.9,107.6 L211.9,109.2 L211.9,110.8 L213.5,112.5 L213.5,114.1 L213.5,115.7 L213.5,117.4 L213.5,119.0 L213.5,120.6 L213.5,122.2 L215.2,122.2 L215.2,123.9 L215.2,125.5 L215.2,127.1 L215.2,128.8 L215.2,130.4 L215.2,132.0 L215.2,133.7 L215.2,135.3 L215.2,136.9 L215.2,138.6 L215.2,140.2 L215.2,141.8 L216.8,141.8 L216.8,143.4 L215.2,143.4 L215.2,145.1 L215.2,146.7 L215.2,148.3 L215.2,150.0 L215.2,151.6 L213.5,151.6 L213.5,153.2 L213.5,154.8 L211.9,154.8 L211.9,156.5 L211.9,158.1 L210.3,158.1 L210.3,159.7 L210.3,161.4 L208.6,161.4 L208.6,163.0 L208.6,164.6 L207.0,164.6 L207.0,166.3 L207.0,167.9 L205.4,167.9 L205.4,169.5 L203.8,169.5 L203.8,171.2 L203.8,172.8 L202.1,172.8 L202.1,174.4 L200.5,176.0 L200.5,177.7 L198.9,177.7 L198.9,179.3 L197.2,179.3 L197.2,180.9 L195.6,180.9 L195.6,182.6 L194.0,182.6 L194.0,184.2 L192.3,184.2 L192.3,185.8 L190.7,185.8 L190.7,187.4 L189.1,187.4 L189.1,189.1 L187.4,189.1 L187.4,190.7 L185.8,190.7 L185.8,192.3 L184.2,192.3 L184.2,194.0 L182.6,194.0 L182.6,195.6 L180.9,195.6 L180.9,197.2 L179.3,197.2 L177.7,198.9 L176.0,198.9 L176.0,200.5 L174.4,200.5 L174.4,202.1 L172.8,202.1 L171.2,202.1 L171.2,203.8 L169.5,203.8 L169.5,205.4 L167.9,205.4 L167.9,207.0 L166.3,207.0 L164.6,207.0 L164.6,208.6 L163.0,208.6 L161.4,210.3 L159.7,210.3 L159.7,211.9 L158.1,211.9 L156.5,213.5 L154.8,213.5 L154.8,215.2 L153.2,215.2 L151.6,215.2 L151.6,216.8 L150.0,216.8 L148.3,218.4 L146.7,218.4 L146.7,220.1 L145.1,220.1 L143.4,220.1 L143.4,221.7 L141.8,221.7 L140.2,221.7 L140.2,223.3 L138.6,223.3 L136.9,224.9 L135.3,224.9 L135.3,226.6 L133.7,226.6 L132.0,226.6 L132.0,228.2 L130.4,228.2 L128.8,229.8 L127.1,229.8 L127.1,231.5 L125.5,231.5 L125.5,233.1 L123.9,233.1 L122.2,233.1 L122.2,234.7 L120.6,234.7 L119.0,234.7 L119.0,236.3 L117.4,236.3 L115.7,236.3 L115.7,238.0 L114.1,238.0 L112.5,238.0 L110.8,239.6 L109.2,239.6 L107.6,239.6 L106.0,241.2 L104.3,241.2 L102.7,241.2 L101.1,242.9 L99.4,242.9 L97.8,242.9 L97.8,244.5 L96.2,244.5 L94.5,246.1 L92.9,246.1 L92.9,247.8 L91.3,247.8 L89.7,247.8 L89.7,249.4 L88.0,249.4 L86.4,249.4 L86.4,251.0 L84.8,252.7 L83.1,254.3 L81.5,254.3 L81.5,255.9 L79.9,255.9 L78.2,257.5 L76.6,257.5 L75.0,257.5 L75.0,259.2 L73.3,259.2 L71.7,259.2 L71.7,260.8 L70.1,260.8 L68.5,260.8 L68.5,262.4 L66.8,262.4 L65.2,264.1 L63.6,264.1 L63.6,265.7 L61.9,265.7 L60.3,265.7 L60.3,267.3 L58.7,267.3 L57.0,267.3 L55.4,267.3 L55.4,268.9 L53.8,268.9 L52.2,268.9 L52.2,267.3 L50.5,267.3 L48.9,267.3 L48.9,265.7 L47.3,265.7 L47.3,264.1 L45.6,264.1 L45.6,262.4 L47.3,260.8 L45.6,260.8 L45.6,259.2 L45.6,257.5 L45.6,255.9 L45.6,254.3 L45.6,252.7 L45.6,251.0 L45.6,249.4 L45.6,247.8 L45.6,246.1 L45.6,244.5 L44.0,242.9 L44.0,241.2 L44.0,239.6 L44.0,238.0 L44.0,236.3 L44.0,234.7 L44.0,233.1 L44.0,231.5 L44.0,229.8 L42.4,229.8 L42.4,228.2 L42.4,226.6 L42.4,224.9 L40.8,223.3 L40.8,221.7 L40.8,220.1 L40.8,218.4 L40.8,216.8 L40.8,215.2 L40.8,213.5 L40.8,211.9 L40.8,210.3 L39.1,210.3 L39.1,208.6 L39.1,207.0 L39.1,205.4 L39.1,203.8 L39.1,202.1 L37.5,200.5 L37.5,198.9 L37.5,197.2 L37.5,195.6 L37.5,194.0 L35.9,194.0 L35.9,192.3 L35.9,190.7 L35.9,189.1 L35.9,187.4 L34.2,187.4 L34.2,185.8 L34.2,184.2 L34.2,182.6 L34.2,180.9 L32.6,180.9 L32.6,179.3 L32.6,177.7 L32.6,176.0 L32.6,174.4 L31.0,174.4 L31.0,172.8 L31.0,171.2 L31.0,169.5 L29.3,167.9 L29.3,166.3 L29.3,164.6 L29.3,163.0 L27.7,161.4 L27.7,159.7 L27.7,158.1 L27.7,156.5 L26.1,154.8 L26.1,153.2 L26.1,151.6 L26.1,150.0 L24.4,148.3 L24.4,146.7 L24.4,145.1 L24.4,143.4 L22.8,143.4 L22.8,141.8 L22.8,140.2 L22.8,138.6 L21.2,138.6 L21.2,136.9 L21.2,135.3 L19.6,133.7 L19.6,132.0 L19.6,130.4 L17.9,130.4 L17.9,128.8 L17.9,127.1 L16.3,127.1 L16.3,125.5 L16.3,123.9 L14.7,123.9 L14.7,122.2 L14.7,120.6 L13.0,120.6 L13.0,119.0 L11.4,117.4 L11.4,115.7 L9.8,115.7 L9.8,114.1 L9.8,112.5 L8.2,112.5 L8.2,110.8 L8.2,109.2 L6.5,107.6 L8.2,107.6 L8.2,106.0 L9.8,106.0 L9.8,104.3 L11.4,104.3 L11.4,102.7 L13.0,102.7 L13.0,101.1 L14.7,101.1 L16.3,101.1 L16.3,99.4 L17.9,97.8 L17.9,96.2 L19.6,96.2 L19.6,94.5 L21.2,94.5 L21.2,92.9 L22.8,91.3 L22.8,89.7 L24.4,89.7 L24.4,88.0 L24.4,86.4 L26.1,86.4 L26.1,84.8 L26.1,83.1 L27.7,83.1 L27.7,81.5 L27.7,79.9 L29.3,79.9 L29.3,78.2 L29.3,76.6 L29.3,75.0 L31.0,75.0 L31.0,73.3 L31.0,71.7 L32.6,71.7 L32.6,70.1 L32.6,68.5 L32.6,66.8 L34.2,66.8 L34.2,65.2 L34.2,63.6 L34.2,61.9 L34.2,60.3 L35.9,60.3 L35.9,58.7 L35.9,57.0 L35.9,55.4 L35.9,53.8 L37.5,52.2 L37.5,50.5 L37.5,48.9 L37.5,47.3 L37.5,45.6 L39.1,45.6 L39.1,44.0 L39.1,42.4 L39.1,40.8 L39.1,39.1 L39.1,37.5 L40.8,37.5 L40.8,35.9 L40.8,34.2 L42.4,34.2 L42.4,32.6 L42.4,31.0 L42.4,29.3 L42.4,27.7 L42.4,26.1 L42.4,24.4 L42.4,22.8 L42.4,21.2 L44.0,21.2 L44.0,19.6 L44.0,17.9 L44.0,16.3 L44.0,14.7 L44.0,13.0 L44.0,11.4 L44.0,9.8 L44.0,8.2 L45.6,8.2 L45.6,6.5Z M119.0,127.1 L119.0,125.5 L120.6,125.5 L120.6,123.9 L120.6,122.2 L122.2,122.2 L122.2,120.6 L122.2,119.0 L123.9,119.0 L123.9,117.4 L123.9,115.7 L125.5,115.7 L125.5,114.1 L125.5,112.5 L127.1,112.5 L127.1,110.8 L127.1,109.2 L128.8,109.2 L128.8,107.6 L130.4,106.0 L130.4,104.3 L132.0,102.7 L132.0,101.1 L133.7,101.1 L133.7,99.4 L135.3,99.4 L135.3,97.8 L136.9,97.8 L136.9,96.2 L138.6,94.5 L138.6,92.9 L140.2,92.9 L140.2,91.3 L141.8,89.7 L141.8,88.0 L143.4,88.0 L143.4,86.4 L145.1,86.4 L146.7,86.4 L146.7,84.8 L148.3,84.8 L150.0,84.8 L150.0,86.4 L151.6,86.4 L153.2,86.4 L154.8,86.4 L156.5,86.4 L156.5,84.8 L158.1,84.8 L159.7,84.8 L159.7,83.1 L161.4,83.1 L163.0,83.1 L163.0,81.5 L164.6,81.5 L166.3,81.5 L167.9,81.5 L169.5,81.5 L171.2,81.5 L172.8,81.5 L172.8,83.1 L174.4,83.1 L176.0,83.1 L177.7,83.1 L179.3,83.1 L180.9,83.1 L182.6,83.1 L182.6,84.8 L184.2,84.8 L185.8,84.8 L185.8,86.4 L187.4,86.4 L187.4,88.0 L189.1,88.0 L189.1,89.7 L189.1,91.3 L190.7,91.3 L190.7,92.9 L190.7,94.5 L190.7,96.2 L192.3,96.2 L192.3,97.8 L192.3,99.4 L192.3,101.1 L194.0,101.1 L194.0,102.7 L194.0,104.3 L194.0,106.0 L194.0,107.6 L195.6,107.6 L195.6,109.2 L195.6,110.8 L195.6,112.5 L195.6,114.1 L195.6,115.7 L195.6,117.4 L195.6,119.0 L195.6,120.6 L195.6,122.2 L197.2,122.2 L197.2,123.9 L197.2,125.5 L197.2,127.1 L197.2,128.8 L197.2,130.4 L197.2,132.0 L197.2,133.7 L197.2,135.3 L197.2,136.9 L197.2,138.6 L197.2,140.2 L197.2,141.8 L197.2,143.4 L197.2,145.1 L197.2,146.7 L195.6,146.7 L195.6,148.3 L195.6,150.0 L194.0,150.0 L194.0,151.6 L194.0,153.2 L192.3,153.2 L192.3,154.8 L192.3,156.5 L190.7,156.5 L190.7,158.1 L189.1,158.1 L189.1,159.7 L187.4,159.7 L187.4,161.4 L185.8,163.0 L185.8,164.6 L184.2,164.6 L184.2,166.3 L182.6,166.3 L182.6,167.9 L180.9,167.9 L180.9,169.5 L179.3,169.5 L179.3,171.2 L179.3,172.8 L177.7,172.8 L177.7,174.4 L176.0,174.4 L176.0,176.0 L174.4,176.0 L174.4,177.7 L172.8,179.3 L171.2,180.9 L171.2,182.6 L169.5,182.6 L167.9,184.2 L166.3,184.2 L166.3,185.8 L164.6,185.8 L163.0,187.4 L161.4,187.4 L161.4,189.1 L159.7,189.1 L158.1,189.1 L158.1,190.7 L156.5,190.7 L156.5,192.3 L154.8,192.3 L153.2,192.3 L153.2,194.0 L151.6,194.0 L151.6,195.6 L150.0,195.6 L148.3,197.2 L146.7,197.2 L146.7,198.9 L145.1,198.9 L145.1,200.5 L143.4,200.5 L143.4,202.1 L141.8,202.1 L140.2,202.1 L140.2,203.8 L138.6,203.8 L136.9,203.8 L135.3,203.8 L133.7,203.8 L132.0,203.8 L130.4,203.8 L128.8,203.8 L127.1,203.8 L127.1,202.1 L125.5,202.1 L123.9,200.5 L122.2,202.1 L120.6,202.1 L120.6,203.8 L119.0,203.8 L117.4,203.8 L115.7,202.1 L114.1,202.1 L114.1,200.5 L112.5,200.5 L112.5,202.1 L110.8,202.1 L109.2,202.1 L107.6,202.1 L106.0,202.1 L104.3,202.1 L104.3,200.5 L102.7,200.5 L101.1,200.5 L99.4,200.5 L99.4,198.9 L99.4,197.2 L97.8,197.2 L97.8,195.6 L96.2,194.0 L96.2,192.3 L96.2,190.7 L96.2,189.1 L96.2,187.4 L96.2,185.8 L96.2,184.2 L96.2,182.6 L96.2,180.9 L96.2,179.3 L96.2,177.7 L96.2,176.0 L96.2,174.4 L97.8,174.4 L97.8,172.8 L97.8,171.2 L99.4,169.5 L99.4,167.9 L101.1,167.9 L101.1,166.3 L102.7,166.3 L102.7,164.6 L104.3,163.0 L104.3,161.4 L106.0,161.4 L106.0,159.7 L106.0,158.1 L107.6,158.1 L107.6,156.5 L107.6,154.8 L109.2,154.8 L109.2,153.2 L109.2,151.6 L110.8,151.6 L112.5,151.6 L112.5,150.0 L114.1,150.0 L115.7,150.0 L115.7,148.3 L117.4,148.3 L119.0,148.3 L119.0,146.7 L119.0,145.1 L120.6,143.4 L120.6,141.8 L122.2,140.2 L122.2,138.6 L122.2,136.9 L122.2,135.3 L122.2,133.7 L120.6,132.0 L120.6,130.4 L120.6,128.8 L119.0,127.1Z" fill="url(#cC)" fill-rule="evenodd" stroke="#a0a093" stroke-width="1.9" stroke-linejoin="miter"/>
<polygon points="71.4,110.8 83.8,110.8 89.2,116.2 89.2,128.6 83.8,134.0 71.4,134.0 66.0,128.6 66.0,116.2" fill="url(#dC)"/>
</g>
</g>
<g><line x1="278.7" y1="316.0" x2="709.5" y2="316.0" stroke="#d9d9d9" stroke-width="1"/>
<line x1="278.7" y1="263.3" x2="709.5" y2="263.3" stroke="#d9d9d9" stroke-width="1"/>
<line x1="278.7" y1="210.6" x2="709.5" y2="210.6" stroke="#d9d9d9" stroke-width="1"/>
<line x1="278.7" y1="157.8" x2="709.5" y2="157.8" stroke="#d9d9d9" stroke-width="1"/>
<line x1="278.7" y1="105.1" x2="709.5" y2="105.1" stroke="#d9d9d9" stroke-width="1"/>
<line x1="278.7" y1="52.4" x2="709.5" y2="52.4" stroke="#d9d9d9" stroke-width="1"/>
<line x1="278.7" y1="52.4" x2="278.7" y2="316.0" stroke="#d9d9d9" stroke-width="1"/>
<line x1="350.5" y1="52.4" x2="350.5" y2="316.0" stroke="#d9d9d9" stroke-width="1"/>
<line x1="422.3" y1="52.4" x2="422.3" y2="316.0" stroke="#d9d9d9" stroke-width="1"/>
<line x1="494.1" y1="52.4" x2="494.1" y2="316.0" stroke="#d9d9d9" stroke-width="1"/>
<line x1="565.9" y1="52.4" x2="565.9" y2="316.0" stroke="#d9d9d9" stroke-width="1"/>
<line x1="637.7" y1="52.4" x2="637.7" y2="316.0" stroke="#d9d9d9" stroke-width="1"/>
<line x1="709.5" y1="52.4" x2="709.5" y2="316.0" stroke="#d9d9d9" stroke-width="1"/>
<text transform="translate(249.76,321.70) scale(0.9789,1)" font-size="18" fill="#404040" stroke="#404040" stroke-width="0.75" stroke-linejoin="round">0</text>
<text transform="translate(249.48,268.98) scale(1.0333,1)" font-size="18" fill="#404040" stroke="#404040" stroke-width="0.75" stroke-linejoin="round">2</text>
<text transform="translate(250.00,216.26) scale(0.9538,1)" font-size="18" fill="#404040" stroke="#404040" stroke-width="0.75" stroke-linejoin="round">4</text>
<text transform="translate(249.48,163.54) scale(1.0333,1)" font-size="18" fill="#404040" stroke="#404040" stroke-width="0.75" stroke-linejoin="round">6</text>
<text transform="translate(249.48,110.82) scale(1.0333,1)" font-size="18" fill="#404040" stroke="#404040" stroke-width="0.75" stroke-linejoin="round">8</text>
<text transform="translate(239.18,58.10) scale(1.0187,1)" font-size="18" fill="#404040" stroke="#404040" stroke-width="0.75" stroke-linejoin="round">10</text>
<text transform="translate(273.41,347.90) scale(0.9789,1)" font-size="18" fill="#404040" stroke="#404040" stroke-width="0.75" stroke-linejoin="round">0</text>
<text transform="translate(339.20,347.90) scale(1.0507,1)" font-size="18" fill="#404040" stroke="#404040" stroke-width="0.75" stroke-linejoin="round">10</text>
<text transform="translate(411.54,347.90) scale(1.0234,1)" font-size="18" fill="#404040" stroke="#404040" stroke-width="0.75" stroke-linejoin="round">20</text>
<text transform="translate(483.60,347.90) scale(1.0103,1)" font-size="18" fill="#404040" stroke="#404040" stroke-width="0.75" stroke-linejoin="round">30</text>
<text transform="translate(555.65,347.90) scale(0.9975,1)" font-size="18" fill="#404040" stroke="#404040" stroke-width="0.75" stroke-linejoin="round">40</text>
<text transform="translate(626.94,347.90) scale(1.0234,1)" font-size="18" fill="#404040" stroke="#404040" stroke-width="0.75" stroke-linejoin="round">50</text>
<text transform="translate(698.74,347.90) scale(1.0234,1)" font-size="18" fill="#404040" stroke="#404040" stroke-width="0.75" stroke-linejoin="round">60</text>
<text transform="translate(460.90,372.40) scale(1.0233,1)" font-size="18" fill="#404040" stroke="#404040" stroke-width="0.75" stroke-linejoin="round">Time (s)</text>
<polyline points="278.7,52.4 285.9,52.4 293.1,294.9 300.2,223.7 307.4,197.4 314.6,183.1 321.8,172.1 329.0,164.4 336.1,158.6 343.3,152.8 350.5,147.6 357.7,144.1 364.9,141.0 372.0,138.3 379.2,135.7 386.4,133.6 393.6,132.0 400.8,130.4 407.9,128.8 415.1,127.8 422.3,126.2 429.5,125.4 436.7,124.4 443.8,123.6 451.0,122.5 458.2,121.8 465.4,121.1 472.6,120.5 479.7,120.0 486.9,119.6 494.1,119.1 501.3,118.6 508.5,118.2 515.6,117.8 522.8,117.4 530.0,117.0 537.2,116.6 544.4,116.3 551.5,116.0 558.7,115.7 565.9,115.4 573.1,115.2 580.3,114.9 587.4,114.7 594.6,114.5 601.8,114.4 609.0,114.2 616.2,114.0 623.3,113.9 630.5,113.7 637.7,113.6 644.9,113.4 652.1,113.3 659.2,113.1 666.4,113.0 673.6,112.8 680.8,112.7 688.0,112.6 695.1,112.5 702.3,112.3 709.5,112.2" fill="none" stroke="#3e6fc6" stroke-width="1.5" stroke-linejoin="round"/>
<g fill="#3e6fc6"><circle cx="278.7" cy="52.4" r="2.8"/><circle cx="285.9" cy="52.4" r="2.8"/><circle cx="293.1" cy="294.9" r="2.8"/><circle cx="300.2" cy="223.7" r="2.8"/><circle cx="307.4" cy="197.4" r="2.8"/><circle cx="314.6" cy="183.1" r="2.8"/><circle cx="321.8" cy="172.1" r="2.8"/><circle cx="329.0" cy="164.4" r="2.8"/><circle cx="336.1" cy="158.6" r="2.8"/><circle cx="343.3" cy="152.8" r="2.8"/><circle cx="350.5" cy="147.6" r="2.8"/><circle cx="357.7" cy="144.1" r="2.8"/><circle cx="364.9" cy="141.0" r="2.8"/><circle cx="372.0" cy="138.3" r="2.8"/><circle cx="379.2" cy="135.7" r="2.8"/><circle cx="386.4" cy="133.6" r="2.8"/><circle cx="393.6" cy="132.0" r="2.8"/><circle cx="400.8" cy="130.4" r="2.8"/><circle cx="407.9" cy="128.8" r="2.8"/><circle cx="415.1" cy="127.8" r="2.8"/><circle cx="422.3" cy="126.2" r="2.8"/><circle cx="429.5" cy="125.4" r="2.8"/><circle cx="436.7" cy="124.4" r="2.8"/><circle cx="443.8" cy="123.6" r="2.8"/><circle cx="451.0" cy="122.5" r="2.8"/><circle cx="458.2" cy="121.8" r="2.8"/><circle cx="465.4" cy="121.1" r="2.8"/><circle cx="472.6" cy="120.5" r="2.8"/><circle cx="479.7" cy="120.0" r="2.8"/><circle cx="486.9" cy="119.6" r="2.8"/><circle cx="494.1" cy="119.1" r="2.8"/><circle cx="501.3" cy="118.6" r="2.8"/><circle cx="508.5" cy="118.2" r="2.8"/><circle cx="515.6" cy="117.8" r="2.8"/><circle cx="522.8" cy="117.4" r="2.8"/><circle cx="530.0" cy="117.0" r="2.8"/><circle cx="537.2" cy="116.6" r="2.8"/><circle cx="544.4" cy="116.3" r="2.8"/><circle cx="551.5" cy="116.0" r="2.8"/><circle cx="558.7" cy="115.7" r="2.8"/><circle cx="565.9" cy="115.4" r="2.8"/><circle cx="573.1" cy="115.2" r="2.8"/><circle cx="580.3" cy="114.9" r="2.8"/><circle cx="587.4" cy="114.7" r="2.8"/><circle cx="594.6" cy="114.5" r="2.8"/><circle cx="601.8" cy="114.4" r="2.8"/><circle cx="609.0" cy="114.2" r="2.8"/><circle cx="616.2" cy="114.0" r="2.8"/><circle cx="623.3" cy="113.9" r="2.8"/><circle cx="630.5" cy="113.7" r="2.8"/><circle cx="637.7" cy="113.6" r="2.8"/><circle cx="644.9" cy="113.4" r="2.8"/><circle cx="652.1" cy="113.3" r="2.8"/><circle cx="659.2" cy="113.1" r="2.8"/><circle cx="666.4" cy="113.0" r="2.8"/><circle cx="673.6" cy="112.8" r="2.8"/><circle cx="680.8" cy="112.7" r="2.8"/><circle cx="688.0" cy="112.6" r="2.8"/><circle cx="695.1" cy="112.5" r="2.8"/><circle cx="702.3" cy="112.3" r="2.8"/><circle cx="709.5" cy="112.2" r="2.8"/></g>
<polyline points="278.7,52.4 285.9,52.4 293.1,314.7 300.2,289.1 307.4,270.7 314.6,255.1 321.8,241.4 329.0,229.5 336.1,219.3 343.3,210.0 350.5,201.6 357.7,194.0 364.9,187.4 372.0,181.3 379.2,175.8 386.4,170.2 393.6,165.5 400.8,161.3 407.9,157.6 415.1,154.1 422.3,151.2 429.5,148.4 436.7,146.0 443.8,143.1 451.0,140.2 458.2,138.0 465.4,136.1 472.6,134.4 479.7,132.9 486.9,131.4 494.1,130.2 501.3,129.0 508.5,127.8 515.6,126.7 522.8,125.6 530.0,124.7 537.2,123.7 544.4,122.9 551.5,122.1 558.7,121.3 565.9,120.7 573.1,120.1 580.3,119.5 587.4,118.9 594.6,118.4 601.8,117.9 609.0,117.4 616.2,117.0 623.3,116.6 630.5,116.3 637.7,115.9 644.9,115.6 652.1,115.3 659.2,115.0 666.4,114.8 673.6,114.5 680.8,114.3 688.0,114.0 695.1,113.9 702.3,113.7 709.5,113.6" fill="none" stroke="#ed7b2f" stroke-width="1.5" stroke-linejoin="round"/>
<g fill="#ed7b2f"><circle cx="278.7" cy="52.4" r="2.8"/><circle cx="285.9" cy="52.4" r="2.8"/><circle cx="293.1" cy="314.7" r="2.8"/><circle cx="300.2" cy="289.1" r="2.8"/><circle cx="307.4" cy="270.7" r="2.8"/><circle cx="314.6" cy="255.1" r="2.8"/><circle cx="321.8" cy="241.4" r="2.8"/><circle cx="329.0" cy="229.5" r="2.8"/><circle cx="336.1" cy="219.3" r="2.8"/><circle cx="343.3" cy="210.0" r="2.8"/><circle cx="350.5" cy="201.6" r="2.8"/><circle cx="357.7" cy="194.0" r="2.8"/><circle cx="364.9" cy="187.4" r="2.8"/><circle cx="372.0" cy="181.3" r="2.8"/><circle cx="379.2" cy="175.8" r="2.8"/><circle cx="386.4" cy="170.2" r="2.8"/><circle cx="393.6" cy="165.5" r="2.8"/><circle cx="400.8" cy="161.3" r="2.8"/><circle cx="407.9" cy="157.6" r="2.8"/><circle cx="415.1" cy="154.1" r="2.8"/><circle cx="422.3" cy="151.2" r="2.8"/><circle cx="429.5" cy="148.4" r="2.8"/><circle cx="436.7" cy="146.0" r="2.8"/><circle cx="443.8" cy="143.1" r="2.8"/><circle cx="451.0" cy="140.2" r="2.8"/><circle cx="458.2" cy="138.0" r="2.8"/><circle cx="465.4" cy="136.1" r="2.8"/><circle cx="472.6" cy="134.4" r="2.8"/><circle cx="479.7" cy="132.9" r="2.8"/><circle cx="486.9" cy="131.4" r="2.8"/><circle cx="494.1" cy="130.2" r="2.8"/><circle cx="501.3" cy="129.0" r="2.8"/><circle cx="508.5" cy="127.8" r="2.8"/><circle cx="515.6" cy="126.7" r="2.8"/><circle cx="522.8" cy="125.6" r="2.8"/><circle cx="530.0" cy="124.7" r="2.8"/><circle cx="537.2" cy="123.7" r="2.8"/><circle cx="544.4" cy="122.9" r="2.8"/><circle cx="551.5" cy="122.1" r="2.8"/><circle cx="558.7" cy="121.3" r="2.8"/><circle cx="565.9" cy="120.7" r="2.8"/><circle cx="573.1" cy="120.1" r="2.8"/><circle cx="580.3" cy="119.5" r="2.8"/><circle cx="587.4" cy="118.9" r="2.8"/><circle cx="594.6" cy="118.4" r="2.8"/><circle cx="601.8" cy="117.9" r="2.8"/><circle cx="609.0" cy="117.4" r="2.8"/><circle cx="616.2" cy="117.0" r="2.8"/><circle cx="623.3" cy="116.6" r="2.8"/><circle cx="630.5" cy="116.3" r="2.8"/><circle cx="637.7" cy="115.9" r="2.8"/><circle cx="644.9" cy="115.6" r="2.8"/><circle cx="652.1" cy="115.3" r="2.8"/><circle cx="659.2" cy="115.0" r="2.8"/><circle cx="666.4" cy="114.8" r="2.8"/><circle cx="673.6" cy="114.5" r="2.8"/><circle cx="680.8" cy="114.3" r="2.8"/><circle cx="688.0" cy="114.0" r="2.8"/><circle cx="695.1" cy="113.9" r="2.8"/><circle cx="702.3" cy="113.7" r="2.8"/><circle cx="709.5" cy="113.6" r="2.8"/></g>
<polyline points="278.7,52.4 285.9,52.4 293.1,316.0 300.2,316.0 307.4,315.2 314.6,313.9 321.8,309.7 329.0,302.8 336.1,294.1 343.3,284.4 350.5,273.0 357.7,262.5 364.9,252.5 372.0,242.2 379.2,232.2 386.4,223.5 393.6,215.3 400.8,206.9 407.9,199.5 415.1,192.9 422.3,186.3 429.5,180.5 436.7,175.8 443.8,171.0 451.0,166.5 458.2,162.6 465.4,158.7 472.6,155.1 479.7,151.7 486.9,148.7 494.1,146.0 501.3,143.5 508.5,141.2 515.6,139.0 522.8,136.9 530.0,134.9 537.2,133.1 544.4,131.4 551.5,129.9 558.7,128.5 565.9,127.3 573.1,126.2 580.3,125.1 587.4,124.2 594.6,123.3 601.8,122.4 609.0,121.6 616.2,120.9 623.3,120.3 630.5,119.6 637.7,119.1 644.9,118.6 652.1,118.1 659.2,117.6 666.4,117.1 673.6,116.7 680.8,116.3 688.0,115.9 695.1,115.6 702.3,115.3 709.5,115.1" fill="none" stroke="#a5a5a5" stroke-width="1.5" stroke-linejoin="round"/>
<g fill="#a5a5a5"><circle cx="278.7" cy="52.4" r="2.8"/><circle cx="285.9" cy="52.4" r="2.8"/><circle cx="293.1" cy="316.0" r="2.8"/><circle cx="300.2" cy="316.0" r="2.8"/><circle cx="307.4" cy="315.2" r="2.8"/><circle cx="314.6" cy="313.9" r="2.8"/><circle cx="321.8" cy="309.7" r="2.8"/><circle cx="329.0" cy="302.8" r="2.8"/><circle cx="336.1" cy="294.1" r="2.8"/><circle cx="343.3" cy="284.4" r="2.8"/><circle cx="350.5" cy="273.0" r="2.8"/><circle cx="357.7" cy="262.5" r="2.8"/><circle cx="364.9" cy="252.5" r="2.8"/><circle cx="372.0" cy="242.2" r="2.8"/><circle cx="379.2" cy="232.2" r="2.8"/><circle cx="386.4" cy="223.5" r="2.8"/><circle cx="393.6" cy="215.3" r="2.8"/><circle cx="400.8" cy="206.9" r="2.8"/><circle cx="407.9" cy="199.5" r="2.8"/><circle cx="415.1" cy="192.9" r="2.8"/><circle cx="422.3" cy="186.3" r="2.8"/><circle cx="429.5" cy="180.5" r="2.8"/><circle cx="436.7" cy="175.8" r="2.8"/><circle cx="443.8" cy="171.0" r="2.8"/><circle cx="451.0" cy="166.5" r="2.8"/><circle cx="458.2" cy="162.6" r="2.8"/><circle cx="465.4" cy="158.7" r="2.8"/><circle cx="472.6" cy="155.1" r="2.8"/><circle cx="479.7" cy="151.7" r="2.8"/><circle cx="486.9" cy="148.7" r="2.8"/><circle cx="494.1" cy="146.0" r="2.8"/><circle cx="501.3" cy="143.5" r="2.8"/><circle cx="508.5" cy="141.2" r="2.8"/><circle cx="515.6" cy="139.0" r="2.8"/><circle cx="522.8" cy="136.9" r="2.8"/><circle cx="530.0" cy="134.9" r="2.8"/><circle cx="537.2" cy="133.1" r="2.8"/><circle cx="544.4" cy="131.4" r="2.8"/><circle cx="551.5" cy="129.9" r="2.8"/><circle cx="558.7" cy="128.5" r="2.8"/><circle cx="565.9" cy="127.3" r="2.8"/><circle cx="573.1" cy="126.2" r="2.8"/><circle cx="580.3" cy="125.1" r="2.8"/><circle cx="587.4" cy="124.2" r="2.8"/><circle cx="594.6" cy="123.3" r="2.8"/><circle cx="601.8" cy="122.4" r="2.8"/><circle cx="609.0" cy="121.6" r="2.8"/><circle cx="616.2" cy="120.9" r="2.8"/><circle cx="623.3" cy="120.3" r="2.8"/><circle cx="630.5" cy="119.6" r="2.8"/><circle cx="637.7" cy="119.1" r="2.8"/><circle cx="644.9" cy="118.6" r="2.8"/><circle cx="652.1" cy="118.1" r="2.8"/><circle cx="659.2" cy="117.6" r="2.8"/><circle cx="666.4" cy="117.1" r="2.8"/><circle cx="673.6" cy="116.7" r="2.8"/><circle cx="680.8" cy="116.3" r="2.8"/><circle cx="688.0" cy="115.9" r="2.8"/><circle cx="695.1" cy="115.6" r="2.8"/><circle cx="702.3" cy="115.3" r="2.8"/><circle cx="709.5" cy="115.1" r="2.8"/></g>
<line x1="419.2" y1="241.8" x2="443.1" y2="241.8" stroke="#3e6fc6" stroke-width="1.5"/>
<circle cx="431.1" cy="241.8" r="2.4" fill="#3e6fc6"/>
<text transform="translate(443.95,247.60) scale(1.0526,1)" font-size="18" fill="#404040" stroke="#404040" stroke-width="0.75" stroke-linejoin="round">Max</text>
<line x1="508.3" y1="241.8" x2="531.1" y2="241.8" stroke="#ed7b2f" stroke-width="1.5"/>
<circle cx="519.7" cy="241.8" r="2.4" fill="#ed7b2f"/>
<text transform="translate(532.31,247.60) scale(1.0913,1)" font-size="18" fill="#404040" stroke="#404040" stroke-width="0.75" stroke-linejoin="round">Mean</text>
<line x1="608.4" y1="241.8" x2="631.2" y2="241.8" stroke="#a5a5a5" stroke-width="1.5"/>
<circle cx="619.8" cy="241.8" r="2.4" fill="#a5a5a5"/>
<text transform="translate(631.62,247.60) scale(1.1817,1)" font-size="18" fill="#404040" stroke="#404040" stroke-width="0.75" stroke-linejoin="round">Min</text></g>
<g><line x1="279.4" y1="716.2" x2="708.8" y2="716.2" stroke="#d9d9d9" stroke-width="1"/>
<line x1="279.4" y1="663.4" x2="708.8" y2="663.4" stroke="#d9d9d9" stroke-width="1"/>
<line x1="279.4" y1="610.6" x2="708.8" y2="610.6" stroke="#d9d9d9" stroke-width="1"/>
<line x1="279.4" y1="557.8" x2="708.8" y2="557.8" stroke="#d9d9d9" stroke-width="1"/>
<line x1="279.4" y1="505.0" x2="708.8" y2="505.0" stroke="#d9d9d9" stroke-width="1"/>
<line x1="279.4" y1="452.2" x2="708.8" y2="452.2" stroke="#d9d9d9" stroke-width="1"/>
<line x1="279.4" y1="452.2" x2="279.4" y2="716.2" stroke="#d9d9d9" stroke-width="1"/>
<line x1="351.0" y1="452.2" x2="351.0" y2="716.2" stroke="#d9d9d9" stroke-width="1"/>
<line x1="422.5" y1="452.2" x2="422.5" y2="716.2" stroke="#d9d9d9" stroke-width="1"/>
<line x1="494.1" y1="452.2" x2="494.1" y2="716.2" stroke="#d9d9d9" stroke-width="1"/>
<line x1="565.7" y1="452.2" x2="565.7" y2="716.2" stroke="#d9d9d9" stroke-width="1"/>
<line x1="637.2" y1="452.2" x2="637.2" y2="716.2" stroke="#d9d9d9" stroke-width="1"/>
<line x1="708.8" y1="452.2" x2="708.8" y2="716.2" stroke="#d9d9d9" stroke-width="1"/>
<text transform="translate(250.46,721.90) scale(0.9789,1)" font-size="18" fill="#404040" stroke="#404040" stroke-width="0.75" stroke-linejoin="round">0</text>
<text transform="translate(250.18,669.10) scale(1.0333,1)" font-size="18" fill="#404040" stroke="#404040" stroke-width="0.75" stroke-linejoin="round">2</text>
<text transform="translate(250.70,616.30) scale(0.9538,1)" font-size="18" fill="#404040" stroke="#404040" stroke-width="0.75" stroke-linejoin="round">4</text>
<text transform="translate(250.18,563.50) scale(1.0333,1)" font-size="18" fill="#404040" stroke="#404040" stroke-width="0.75" stroke-linejoin="round">6</text>
<text transform="translate(250.18,510.70) scale(1.0333,1)" font-size="18" fill="#404040" stroke="#404040" stroke-width="0.75" stroke-linejoin="round">8</text>
<text transform="translate(239.88,457.90) scale(1.0187,1)" font-size="18" fill="#404040" stroke="#404040" stroke-width="0.75" stroke-linejoin="round">10</text>
<text transform="translate(274.11,748.20) scale(0.9789,1)" font-size="18" fill="#404040" stroke="#404040" stroke-width="0.75" stroke-linejoin="round">0</text>
<text transform="translate(339.67,748.20) scale(1.0507,1)" font-size="18" fill="#404040" stroke="#404040" stroke-width="0.75" stroke-linejoin="round">10</text>
<text transform="translate(411.77,748.20) scale(1.0234,1)" font-size="18" fill="#404040" stroke="#404040" stroke-width="0.75" stroke-linejoin="round">20</text>
<text transform="translate(483.60,748.20) scale(1.0103,1)" font-size="18" fill="#404040" stroke="#404040" stroke-width="0.75" stroke-linejoin="round">30</text>
<text transform="translate(555.42,748.20) scale(0.9975,1)" font-size="18" fill="#404040" stroke="#404040" stroke-width="0.75" stroke-linejoin="round">40</text>
<text transform="translate(626.47,748.20) scale(1.0234,1)" font-size="18" fill="#404040" stroke="#404040" stroke-width="0.75" stroke-linejoin="round">50</text>
<text transform="translate(698.04,748.20) scale(1.0234,1)" font-size="18" fill="#404040" stroke="#404040" stroke-width="0.75" stroke-linejoin="round">60</text>
<text transform="translate(460.90,772.70) scale(1.0233,1)" font-size="18" fill="#404040" stroke="#404040" stroke-width="0.75" stroke-linejoin="round">Time (s)</text>
<polyline points="279.4,452.2 286.6,452.2 293.7,707.2 300.9,655.0 308.0,626.2 315.2,606.6 322.3,592.6 329.5,579.7 336.7,569.2 343.8,559.1 351.0,551.2 358.1,543.0 365.3,536.4 372.4,529.8 379.6,524.0 386.8,518.7 393.9,514.2 401.1,510.3 408.2,505.8 415.4,502.9 422.5,500.0 429.7,496.8 436.8,494.2 444.0,492.1 451.2,490.2 458.3,488.4 465.5,486.6 472.6,485.0 479.8,483.5 486.9,482.3 494.1,481.2 501.3,480.4 508.4,479.6 515.6,478.9 522.7,478.2 529.9,477.6 537.0,477.0 544.2,476.5 551.4,476.0 558.5,475.6 565.7,475.2 572.8,474.8 580.0,474.4 587.1,474.0 594.3,473.6 601.4,473.3 608.6,472.9 615.8,472.7 622.9,472.4 630.1,472.2 637.2,472.0 644.4,471.8 651.5,471.7 658.7,471.5 665.9,471.4 673.0,471.3 680.2,471.2 687.3,471.1 694.5,471.0 701.6,471.0 708.8,470.9" fill="none" stroke="#3e6fc6" stroke-width="1.5" stroke-linejoin="round"/>
<g fill="#3e6fc6"><circle cx="279.4" cy="452.2" r="2.8"/><circle cx="286.6" cy="452.2" r="2.8"/><circle cx="293.7" cy="707.2" r="2.8"/><circle cx="300.9" cy="655.0" r="2.8"/><circle cx="308.0" cy="626.2" r="2.8"/><circle cx="315.2" cy="606.6" r="2.8"/><circle cx="322.3" cy="592.6" r="2.8"/><circle cx="329.5" cy="579.7" r="2.8"/><circle cx="336.7" cy="569.2" r="2.8"/><circle cx="343.8" cy="559.1" r="2.8"/><circle cx="351.0" cy="551.2" r="2.8"/><circle cx="358.1" cy="543.0" r="2.8"/><circle cx="365.3" cy="536.4" r="2.8"/><circle cx="372.4" cy="529.8" r="2.8"/><circle cx="379.6" cy="524.0" r="2.8"/><circle cx="386.8" cy="518.7" r="2.8"/><circle cx="393.9" cy="514.2" r="2.8"/><circle cx="401.1" cy="510.3" r="2.8"/><circle cx="408.2" cy="505.8" r="2.8"/><circle cx="415.4" cy="502.9" r="2.8"/><circle cx="422.5" cy="500.0" r="2.8"/><circle cx="429.7" cy="496.8" r="2.8"/><circle cx="436.8" cy="494.2" r="2.8"/><circle cx="444.0" cy="492.1" r="2.8"/><circle cx="451.2" cy="490.2" r="2.8"/><circle cx="458.3" cy="488.4" r="2.8"/><circle cx="465.5" cy="486.6" r="2.8"/><circle cx="472.6" cy="485.0" r="2.8"/><circle cx="479.8" cy="483.5" r="2.8"/><circle cx="486.9" cy="482.3" r="2.8"/><circle cx="494.1" cy="481.2" r="2.8"/><circle cx="501.3" cy="480.4" r="2.8"/><circle cx="508.4" cy="479.6" r="2.8"/><circle cx="515.6" cy="478.9" r="2.8"/><circle cx="522.7" cy="478.2" r="2.8"/><circle cx="529.9" cy="477.6" r="2.8"/><circle cx="537.0" cy="477.0" r="2.8"/><circle cx="544.2" cy="476.5" r="2.8"/><circle cx="551.4" cy="476.0" r="2.8"/><circle cx="558.5" cy="475.6" r="2.8"/><circle cx="565.7" cy="475.2" r="2.8"/><circle cx="572.8" cy="474.8" r="2.8"/><circle cx="580.0" cy="474.4" r="2.8"/><circle cx="587.1" cy="474.0" r="2.8"/><circle cx="594.3" cy="473.6" r="2.8"/><circle cx="601.4" cy="473.3" r="2.8"/><circle cx="608.6" cy="472.9" r="2.8"/><circle cx="615.8" cy="472.7" r="2.8"/><circle cx="622.9" cy="472.4" r="2.8"/><circle cx="630.1" cy="472.2" r="2.8"/><circle cx="637.2" cy="472.0" r="2.8"/><circle cx="644.4" cy="471.8" r="2.8"/><circle cx="651.5" cy="471.7" r="2.8"/><circle cx="658.7" cy="471.5" r="2.8"/><circle cx="665.9" cy="471.4" r="2.8"/><circle cx="673.0" cy="471.3" r="2.8"/><circle cx="680.2" cy="471.2" r="2.8"/><circle cx="687.3" cy="471.1" r="2.8"/><circle cx="694.5" cy="471.0" r="2.8"/><circle cx="701.6" cy="471.0" r="2.8"/><circle cx="708.8" cy="470.9" r="2.8"/></g>
<polyline points="279.4,452.2 286.6,452.2 293.7,714.9 300.9,692.4 308.0,670.8 315.2,652.3 322.3,634.6 329.5,619.3 336.7,605.1 343.8,592.6 351.0,580.0 358.1,570.2 365.3,561.2 372.4,552.8 379.6,545.1 386.8,538.0 393.9,531.7 401.1,525.9 408.2,520.6 415.4,515.6 422.5,511.3 429.7,507.4 436.8,503.7 444.0,500.2 451.2,497.5 458.3,495.0 465.5,492.7 472.6,490.5 479.8,488.6 486.9,486.9 494.1,485.5 501.3,484.2 508.4,483.1 515.6,482.0 522.7,481.0 529.9,480.0 537.0,479.2 544.2,478.4 551.4,477.7 558.5,477.1 565.7,476.5 572.8,476.0 580.0,475.4 587.1,475.0 594.3,474.5 601.4,474.1 608.6,473.7 615.8,473.4 622.9,473.1 630.1,472.8 637.2,472.5 644.4,472.3 651.5,472.1 658.7,471.9 665.9,471.7 673.0,471.5 680.2,471.3 687.3,471.2 694.5,471.1 701.6,471.0 708.8,470.9" fill="none" stroke="#ed7b2f" stroke-width="1.5" stroke-linejoin="round"/>
<g fill="#ed7b2f"><circle cx="279.4" cy="452.2" r="2.8"/><circle cx="286.6" cy="452.2" r="2.8"/><circle cx="293.7" cy="714.9" r="2.8"/><circle cx="300.9" cy="692.4" r="2.8"/><circle cx="308.0" cy="670.8" r="2.8"/><circle cx="315.2" cy="652.3" r="2.8"/><circle cx="322.3" cy="634.6" r="2.8"/><circle cx="329.5" cy="619.3" r="2.8"/><circle cx="336.7" cy="605.1" r="2.8"/><circle cx="343.8" cy="592.6" r="2.8"/><circle cx="351.0" cy="580.0" r="2.8"/><circle cx="358.1" cy="570.2" r="2.8"/><circle cx="365.3" cy="561.2" r="2.8"/><circle cx="372.4" cy="552.8" r="2.8"/><circle cx="379.6" cy="545.1" r="2.8"/><circle cx="386.8" cy="538.0" r="2.8"/><circle cx="393.9" cy="531.7" r="2.8"/><circle cx="401.1" cy="525.9" r="2.8"/><circle cx="408.2" cy="520.6" r="2.8"/><circle cx="415.4" cy="515.6" r="2.8"/><circle cx="422.5" cy="511.3" r="2.8"/><circle cx="429.7" cy="507.4" r="2.8"/><circle cx="436.8" cy="503.7" r="2.8"/><circle cx="444.0" cy="500.2" r="2.8"/><circle cx="451.2" cy="497.5" r="2.8"/><circle cx="458.3" cy="495.0" r="2.8"/><circle cx="465.5" cy="492.7" r="2.8"/><circle cx="472.6" cy="490.5" r="2.8"/><circle cx="479.8" cy="488.6" r="2.8"/><circle cx="486.9" cy="486.9" r="2.8"/><circle cx="494.1" cy="485.5" r="2.8"/><circle cx="501.3" cy="484.2" r="2.8"/><circle cx="508.4" cy="483.1" r="2.8"/><circle cx="515.6" cy="482.0" r="2.8"/><circle cx="522.7" cy="481.0" r="2.8"/><circle cx="529.9" cy="480.0" r="2.8"/><circle cx="537.0" cy="479.2" r="2.8"/><circle cx="544.2" cy="478.4" r="2.8"/><circle cx="551.4" cy="477.7" r="2.8"/><circle cx="558.5" cy="477.1" r="2.8"/><circle cx="565.7" cy="476.5" r="2.8"/><circle cx="572.8" cy="476.0" r="2.8"/><circle cx="580.0" cy="475.4" r="2.8"/><circle cx="587.1" cy="475.0" r="2.8"/><circle cx="594.3" cy="474.5" r="2.8"/><circle cx="601.4" cy="474.1" r="2.8"/><circle cx="608.6" cy="473.7" r="2.8"/><circle cx="615.8" cy="473.4" r="2.8"/><circle cx="622.9" cy="473.1" r="2.8"/><circle cx="630.1" cy="472.8" r="2.8"/><circle cx="637.2" cy="472.5" r="2.8"/><circle cx="644.4" cy="472.3" r="2.8"/><circle cx="651.5" cy="472.1" r="2.8"/><circle cx="658.7" cy="471.9" r="2.8"/><circle cx="665.9" cy="471.7" r="2.8"/><circle cx="673.0" cy="471.5" r="2.8"/><circle cx="680.2" cy="471.3" r="2.8"/><circle cx="687.3" cy="471.2" r="2.8"/><circle cx="694.5" cy="471.1" r="2.8"/><circle cx="701.6" cy="471.0" r="2.8"/><circle cx="708.8" cy="470.9" r="2.8"/></g>
<polyline points="279.4,452.2 286.6,452.2 293.7,716.2 300.9,714.9 308.0,708.0 315.2,694.3 322.3,677.7 329.5,660.5 336.7,644.1 343.8,628.0 351.0,613.5 358.1,600.3 365.3,588.4 372.4,577.1 379.6,567.3 386.8,558.1 393.9,549.4 401.1,542.0 408.2,534.8 415.4,529.3 422.5,523.7 429.7,518.7 436.8,513.7 444.0,509.8 451.2,506.4 458.3,503.3 465.5,500.3 472.6,497.5 479.8,494.9 486.9,492.7 494.1,490.7 501.3,489.0 508.4,487.4 515.6,485.9 522.7,484.5 529.9,483.1 537.0,481.9 544.2,480.8 551.4,479.8 558.5,478.9 565.7,478.1 572.8,477.3 580.0,476.6 587.1,476.0 594.3,475.4 601.4,474.8 608.6,474.3 615.8,473.8 622.9,473.4 630.1,473.1 637.2,472.8 644.4,472.6 651.5,472.3 658.7,472.1 665.9,471.9 673.0,471.7 680.2,471.5 687.3,471.4 694.5,471.3 701.6,471.2 708.8,471.2" fill="none" stroke="#a5a5a5" stroke-width="1.5" stroke-linejoin="round"/>
<g fill="#a5a5a5"><circle cx="279.4" cy="452.2" r="2.8"/><circle cx="286.6" cy="452.2" r="2.8"/><circle cx="293.7" cy="716.2" r="2.8"/><circle cx="300.9" cy="714.9" r="2.8"/><circle cx="308.0" cy="708.0" r="2.8"/><circle cx="315.2" cy="694.3" r="2.8"/><circle cx="322.3" cy="677.7" r="2.8"/><circle cx="329.5" cy="660.5" r="2.8"/><circle cx="336.7" cy="644.1" r="2.8"/><circle cx="343.8" cy="628.0" r="2.8"/><circle cx="351.0" cy="613.5" r="2.8"/><circle cx="358.1" cy="600.3" r="2.8"/><circle cx="365.3" cy="588.4" r="2.8"/><circle cx="372.4" cy="577.1" r="2.8"/><circle cx="379.6" cy="567.3" r="2.8"/><circle cx="386.8" cy="558.1" r="2.8"/><circle cx="393.9" cy="549.4" r="2.8"/><circle cx="401.1" cy="542.0" r="2.8"/><circle cx="408.2" cy="534.8" r="2.8"/><circle cx="415.4" cy="529.3" r="2.8"/><circle cx="422.5" cy="523.7" r="2.8"/><circle cx="429.7" cy="518.7" r="2.8"/><circle cx="436.8" cy="513.7" r="2.8"/><circle cx="444.0" cy="509.8" r="2.8"/><circle cx="451.2" cy="506.4" r="2.8"/><circle cx="458.3" cy="503.3" r="2.8"/><circle cx="465.5" cy="500.3" r="2.8"/><circle cx="472.6" cy="497.5" r="2.8"/><circle cx="479.8" cy="494.9" r="2.8"/><circle cx="486.9" cy="492.7" r="2.8"/><circle cx="494.1" cy="490.7" r="2.8"/><circle cx="501.3" cy="489.0" r="2.8"/><circle cx="508.4" cy="487.4" r="2.8"/><circle cx="515.6" cy="485.9" r="2.8"/><circle cx="522.7" cy="484.5" r="2.8"/><circle cx="529.9" cy="483.1" r="2.8"/><circle cx="537.0" cy="481.9" r="2.8"/><circle cx="544.2" cy="480.8" r="2.8"/><circle cx="551.4" cy="479.8" r="2.8"/><circle cx="558.5" cy="478.9" r="2.8"/><circle cx="565.7" cy="478.1" r="2.8"/><circle cx="572.8" cy="477.3" r="2.8"/><circle cx="580.0" cy="476.6" r="2.8"/><circle cx="587.1" cy="476.0" r="2.8"/><circle cx="594.3" cy="475.4" r="2.8"/><circle cx="601.4" cy="474.8" r="2.8"/><circle cx="608.6" cy="474.3" r="2.8"/><circle cx="615.8" cy="473.8" r="2.8"/><circle cx="622.9" cy="473.4" r="2.8"/><circle cx="630.1" cy="473.1" r="2.8"/><circle cx="637.2" cy="472.8" r="2.8"/><circle cx="644.4" cy="472.6" r="2.8"/><circle cx="651.5" cy="472.3" r="2.8"/><circle cx="658.7" cy="472.1" r="2.8"/><circle cx="665.9" cy="471.9" r="2.8"/><circle cx="673.0" cy="471.7" r="2.8"/><circle cx="680.2" cy="471.5" r="2.8"/><circle cx="687.3" cy="471.4" r="2.8"/><circle cx="694.5" cy="471.3" r="2.8"/><circle cx="701.6" cy="471.2" r="2.8"/><circle cx="708.8" cy="471.2" r="2.8"/></g>
<line x1="416.0" y1="641.2" x2="440.0" y2="641.2" stroke="#3e6fc6" stroke-width="1.5"/>
<circle cx="428.0" cy="641.2" r="2.4" fill="#3e6fc6"/>
<text transform="translate(441.54,647.20) scale(1.0617,1)" font-size="18" fill="#404040" stroke="#404040" stroke-width="0.75" stroke-linejoin="round">Max</text>
<line x1="505.2" y1="641.2" x2="528.4" y2="641.2" stroke="#ed7b2f" stroke-width="1.5"/>
<circle cx="516.8" cy="641.2" r="2.4" fill="#ed7b2f"/>
<text transform="translate(529.92,647.20) scale(1.0751,1)" font-size="18" fill="#404040" stroke="#404040" stroke-width="0.75" stroke-linejoin="round">Mean</text>
<line x1="605.7" y1="641.2" x2="629.0" y2="641.2" stroke="#a5a5a5" stroke-width="1.5"/>
<circle cx="617.4" cy="641.2" r="2.4" fill="#a5a5a5"/>
<text transform="translate(629.65,647.20) scale(1.1523,1)" font-size="18" fill="#404040" stroke="#404040" stroke-width="0.75" stroke-linejoin="round">Min</text></g>
<g><line x1="282.6" y1="1107.9" x2="709.5" y2="1107.9" stroke="#d9d9d9" stroke-width="1"/>
<line x1="282.6" y1="1055.1" x2="709.5" y2="1055.1" stroke="#d9d9d9" stroke-width="1"/>
<line x1="282.6" y1="1002.3" x2="709.5" y2="1002.3" stroke="#d9d9d9" stroke-width="1"/>
<line x1="282.6" y1="949.6" x2="709.5" y2="949.6" stroke="#d9d9d9" stroke-width="1"/>
<line x1="282.6" y1="896.8" x2="709.5" y2="896.8" stroke="#d9d9d9" stroke-width="1"/>
<line x1="282.6" y1="844.0" x2="709.5" y2="844.0" stroke="#d9d9d9" stroke-width="1"/>
<line x1="282.6" y1="844.0" x2="282.6" y2="1107.9" stroke="#d9d9d9" stroke-width="1"/>
<line x1="353.8" y1="844.0" x2="353.8" y2="1107.9" stroke="#d9d9d9" stroke-width="1"/>
<line x1="424.9" y1="844.0" x2="424.9" y2="1107.9" stroke="#d9d9d9" stroke-width="1"/>
<line x1="496.1" y1="844.0" x2="496.1" y2="1107.9" stroke="#d9d9d9" stroke-width="1"/>
<line x1="567.2" y1="844.0" x2="567.2" y2="1107.9" stroke="#d9d9d9" stroke-width="1"/>
<line x1="638.3" y1="844.0" x2="638.3" y2="1107.9" stroke="#d9d9d9" stroke-width="1"/>
<line x1="709.5" y1="844.0" x2="709.5" y2="1107.9" stroke="#d9d9d9" stroke-width="1"/>
<text transform="translate(253.66,1113.60) scale(0.9789,1)" font-size="18" fill="#404040" stroke="#404040" stroke-width="0.75" stroke-linejoin="round">0</text>
<text transform="translate(253.38,1060.82) scale(1.0333,1)" font-size="18" fill="#404040" stroke="#404040" stroke-width="0.75" stroke-linejoin="round">2</text>
<text transform="translate(253.90,1008.04) scale(0.9538,1)" font-size="18" fill="#404040" stroke="#404040" stroke-width="0.75" stroke-linejoin="round">4</text>
<text transform="translate(253.38,955.26) scale(1.0333,1)" font-size="18" fill="#404040" stroke="#404040" stroke-width="0.75" stroke-linejoin="round">6</text>
<text transform="translate(253.38,902.48) scale(1.0333,1)" font-size="18" fill="#404040" stroke="#404040" stroke-width="0.75" stroke-linejoin="round">8</text>
<text transform="translate(243.08,849.70) scale(1.0187,1)" font-size="18" fill="#404040" stroke="#404040" stroke-width="0.75" stroke-linejoin="round">10</text>
<text transform="translate(277.31,1139.90) scale(0.9789,1)" font-size="18" fill="#404040" stroke="#404040" stroke-width="0.75" stroke-linejoin="round">0</text>
<text transform="translate(342.45,1139.90) scale(1.0507,1)" font-size="18" fill="#404040" stroke="#404040" stroke-width="0.75" stroke-linejoin="round">10</text>
<text transform="translate(414.14,1139.90) scale(1.0234,1)" font-size="18" fill="#404040" stroke="#404040" stroke-width="0.75" stroke-linejoin="round">20</text>
<text transform="translate(485.55,1139.90) scale(1.0103,1)" font-size="18" fill="#404040" stroke="#404040" stroke-width="0.75" stroke-linejoin="round">30</text>
<text transform="translate(556.95,1139.90) scale(0.9975,1)" font-size="18" fill="#404040" stroke="#404040" stroke-width="0.75" stroke-linejoin="round">40</text>
<text transform="translate(627.59,1139.90) scale(1.0234,1)" font-size="18" fill="#404040" stroke="#404040" stroke-width="0.75" stroke-linejoin="round">50</text>
<text transform="translate(698.74,1139.90) scale(1.0234,1)" font-size="18" fill="#404040" stroke="#404040" stroke-width="0.75" stroke-linejoin="round">60</text>
<text transform="translate(462.85,1164.30) scale(1.0233,1)" font-size="18" fill="#404040" stroke="#404040" stroke-width="0.75" stroke-linejoin="round">Time (s)</text>
<polyline points="282.6,844.0 289.7,844.0 296.8,1083.6 303.9,989.1 311.1,949.6 318.2,925.8 325.3,910.2 332.4,899.4 339.5,891.8 346.6,886.0 353.8,881.5 360.9,877.5 368.0,874.9 375.1,873.0 382.2,871.2 389.3,869.6 396.4,868.5 403.6,867.8 410.7,867.2 417.8,866.7 424.9,866.2 432.0,865.8 439.1,865.5 446.2,865.3 453.4,865.1 460.5,865.0 467.6,864.9 474.7,864.8 481.8,864.8 488.9,864.7 496.1,864.6 503.2,864.5 510.3,864.3 517.4,864.1 524.5,864.0 531.6,863.8 538.7,863.7 545.9,863.6 553.0,863.5 560.1,863.5 567.2,863.5 574.3,863.5 581.4,863.5 588.5,863.4 595.7,863.4 602.8,863.4 609.9,863.4 617.0,863.4 624.1,863.4 631.2,863.4 638.3,863.4 645.5,863.4 652.6,863.4 659.7,863.4 666.8,863.4 673.9,863.4 681.0,863.3 688.2,863.3 695.3,863.3 702.4,863.3 709.5,862.2" fill="none" stroke="#3e6fc6" stroke-width="1.5" stroke-linejoin="round"/>
<g fill="#3e6fc6"><circle cx="282.6" cy="844.0" r="2.8"/><circle cx="289.7" cy="844.0" r="2.8"/><circle cx="296.8" cy="1083.6" r="2.8"/><circle cx="303.9" cy="989.1" r="2.8"/><circle cx="311.1" cy="949.6" r="2.8"/><circle cx="318.2" cy="925.8" r="2.8"/><circle cx="325.3" cy="910.2" r="2.8"/><circle cx="332.4" cy="899.4" r="2.8"/><circle cx="339.5" cy="891.8" r="2.8"/><circle cx="346.6" cy="886.0" r="2.8"/><circle cx="353.8" cy="881.5" r="2.8"/><circle cx="360.9" cy="877.5" r="2.8"/><circle cx="368.0" cy="874.9" r="2.8"/><circle cx="375.1" cy="873.0" r="2.8"/><circle cx="382.2" cy="871.2" r="2.8"/><circle cx="389.3" cy="869.6" r="2.8"/><circle cx="396.4" cy="868.5" r="2.8"/><circle cx="403.6" cy="867.8" r="2.8"/><circle cx="410.7" cy="867.2" r="2.8"/><circle cx="417.8" cy="866.7" r="2.8"/><circle cx="424.9" cy="866.2" r="2.8"/><circle cx="432.0" cy="865.8" r="2.8"/><circle cx="439.1" cy="865.5" r="2.8"/><circle cx="446.2" cy="865.3" r="2.8"/><circle cx="453.4" cy="865.1" r="2.8"/><circle cx="460.5" cy="865.0" r="2.8"/><circle cx="467.6" cy="864.9" r="2.8"/><circle cx="474.7" cy="864.8" r="2.8"/><circle cx="481.8" cy="864.8" r="2.8"/><circle cx="488.9" cy="864.7" r="2.8"/><circle cx="496.1" cy="864.6" r="2.8"/><circle cx="503.2" cy="864.5" r="2.8"/><circle cx="510.3" cy="864.3" r="2.8"/><circle cx="517.4" cy="864.1" r="2.8"/><circle cx="524.5" cy="864.0" r="2.8"/><circle cx="531.6" cy="863.8" r="2.8"/><circle cx="538.7" cy="863.7" r="2.8"/><circle cx="545.9" cy="863.6" r="2.8"/><circle cx="553.0" cy="863.5" r="2.8"/><circle cx="560.1" cy="863.5" r="2.8"/><circle cx="567.2" cy="863.5" r="2.8"/><circle cx="574.3" cy="863.5" r="2.8"/><circle cx="581.4" cy="863.5" r="2.8"/><circle cx="588.5" cy="863.4" r="2.8"/><circle cx="595.7" cy="863.4" r="2.8"/><circle cx="602.8" cy="863.4" r="2.8"/><circle cx="609.9" cy="863.4" r="2.8"/><circle cx="617.0" cy="863.4" r="2.8"/><circle cx="624.1" cy="863.4" r="2.8"/><circle cx="631.2" cy="863.4" r="2.8"/><circle cx="638.3" cy="863.4" r="2.8"/><circle cx="645.5" cy="863.4" r="2.8"/><circle cx="652.6" cy="863.4" r="2.8"/><circle cx="659.7" cy="863.4" r="2.8"/><circle cx="666.8" cy="863.4" r="2.8"/><circle cx="673.9" cy="863.4" r="2.8"/><circle cx="681.0" cy="863.3" r="2.8"/><circle cx="688.2" cy="863.3" r="2.8"/><circle cx="695.3" cy="863.3" r="2.8"/><circle cx="702.4" cy="863.3" r="2.8"/><circle cx="709.5" cy="862.2" r="2.8"/></g>
<polyline points="282.6,844.0 289.7,844.0 296.8,1100.5 303.9,1036.4 311.1,990.7 318.2,959.1 325.3,936.1 332.4,919.2 339.5,906.5 346.6,897.0 353.8,889.4 360.9,884.1 368.0,880.2 375.1,877.0 382.2,874.6 389.3,872.2 396.4,870.9 403.6,869.6 410.7,868.5 417.8,867.5 424.9,867.0 432.0,866.5 439.1,866.0 446.2,865.6 453.4,865.4 460.5,865.2 467.6,865.2 474.7,865.1 481.8,865.0 488.9,864.9 496.1,864.8 503.2,864.7 510.3,864.5 517.4,864.3 524.5,864.1 531.6,863.9 538.7,863.7 545.9,863.6 553.0,863.5 560.1,863.5 567.2,863.5 574.3,863.5 581.4,863.5 588.5,863.4 595.7,863.4 602.8,863.4 609.9,863.4 617.0,863.4 624.1,863.4 631.2,863.4 638.3,863.4 645.5,863.4 652.6,863.4 659.7,863.4 666.8,863.4 673.9,863.4 681.0,863.3 688.2,863.3 695.3,863.3 702.4,863.3 709.5,862.7" fill="none" stroke="#ed7b2f" stroke-width="1.5" stroke-linejoin="round"/>
<g fill="#ed7b2f"><circle cx="282.6" cy="844.0" r="2.8"/><circle cx="289.7" cy="844.0" r="2.8"/><circle cx="296.8" cy="1100.5" r="2.8"/><circle cx="303.9" cy="1036.4" r="2.8"/><circle cx="311.1" cy="990.7" r="2.8"/><circle cx="318.2" cy="959.1" r="2.8"/><circle cx="325.3" cy="936.1" r="2.8"/><circle cx="332.4" cy="919.2" r="2.8"/><circle cx="339.5" cy="906.5" r="2.8"/><circle cx="346.6" cy="897.0" r="2.8"/><circle cx="353.8" cy="889.4" r="2.8"/><circle cx="360.9" cy="884.1" r="2.8"/><circle cx="368.0" cy="880.2" r="2.8"/><circle cx="375.1" cy="877.0" r="2.8"/><circle cx="382.2" cy="874.6" r="2.8"/><circle cx="389.3" cy="872.2" r="2.8"/><circle cx="396.4" cy="870.9" r="2.8"/><circle cx="403.6" cy="869.6" r="2.8"/><circle cx="410.7" cy="868.5" r="2.8"/><circle cx="417.8" cy="867.5" r="2.8"/><circle cx="424.9" cy="867.0" r="2.8"/><circle cx="432.0" cy="866.5" r="2.8"/><circle cx="439.1" cy="866.0" r="2.8"/><circle cx="446.2" cy="865.6" r="2.8"/><circle cx="453.4" cy="865.4" r="2.8"/><circle cx="460.5" cy="865.2" r="2.8"/><circle cx="467.6" cy="865.2" r="2.8"/><circle cx="474.7" cy="865.1" r="2.8"/><circle cx="481.8" cy="865.0" r="2.8"/><circle cx="488.9" cy="864.9" r="2.8"/><circle cx="496.1" cy="864.8" r="2.8"/><circle cx="503.2" cy="864.7" r="2.8"/><circle cx="510.3" cy="864.5" r="2.8"/><circle cx="517.4" cy="864.3" r="2.8"/><circle cx="524.5" cy="864.1" r="2.8"/><circle cx="531.6" cy="863.9" r="2.8"/><circle cx="538.7" cy="863.7" r="2.8"/><circle cx="545.9" cy="863.6" r="2.8"/><circle cx="553.0" cy="863.5" r="2.8"/><circle cx="560.1" cy="863.5" r="2.8"/><circle cx="567.2" cy="863.5" r="2.8"/><circle cx="574.3" cy="863.5" r="2.8"/><circle cx="581.4" cy="863.5" r="2.8"/><circle cx="588.5" cy="863.4" r="2.8"/><circle cx="595.7" cy="863.4" r="2.8"/><circle cx="602.8" cy="863.4" r="2.8"/><circle cx="609.9" cy="863.4" r="2.8"/><circle cx="617.0" cy="863.4" r="2.8"/><circle cx="624.1" cy="863.4" r="2.8"/><circle cx="631.2" cy="863.4" r="2.8"/><circle cx="638.3" cy="863.4" r="2.8"/><circle cx="645.5" cy="863.4" r="2.8"/><circle cx="652.6" cy="863.4" r="2.8"/><circle cx="659.7" cy="863.4" r="2.8"/><circle cx="666.8" cy="863.4" r="2.8"/><circle cx="673.9" cy="863.4" r="2.8"/><circle cx="681.0" cy="863.3" r="2.8"/><circle cx="688.2" cy="863.3" r="2.8"/><circle cx="695.3" cy="863.3" r="2.8"/><circle cx="702.4" cy="863.3" r="2.8"/><circle cx="709.5" cy="862.7" r="2.8"/></g>
<polyline points="282.6,844.0 289.7,844.0 296.8,1107.9 303.9,1096.3 311.1,1060.7 318.2,1020.5 325.3,984.1 332.4,955.4 339.5,933.5 346.6,917.4 353.8,905.2 360.9,896.3 368.0,889.4 375.1,884.4 382.2,880.2 389.3,877.0 396.4,874.6 403.6,872.5 410.7,870.9 417.8,869.6 424.9,868.5 432.0,867.8 439.1,867.3 446.2,866.8 453.4,866.4 460.5,866.1 467.6,865.9 474.7,865.7 481.8,865.5 488.9,865.3 496.1,865.1 503.2,864.9 510.3,864.6 517.4,864.4 524.5,864.1 531.6,863.9 538.7,863.7 545.9,863.6 553.0,863.5 560.1,863.5 567.2,863.5 574.3,863.5 581.4,863.5 588.5,863.5 595.7,863.5 602.8,863.5 609.9,863.5 617.0,863.5 624.1,863.5 631.2,863.5 638.3,863.5 645.5,863.5 652.6,863.5 659.7,863.5 666.8,863.5 673.9,863.5 681.0,863.5 688.2,863.5 695.3,863.5 702.4,863.5 709.5,863.0" fill="none" stroke="#a5a5a5" stroke-width="1.5" stroke-linejoin="round"/>
<g fill="#a5a5a5"><circle cx="282.6" cy="844.0" r="2.8"/><circle cx="289.7" cy="844.0" r="2.8"/><circle cx="296.8" cy="1107.9" r="2.8"/><circle cx="303.9" cy="1096.3" r="2.8"/><circle cx="311.1" cy="1060.7" r="2.8"/><circle cx="318.2" cy="1020.5" r="2.8"/><circle cx="325.3" cy="984.1" r="2.8"/><circle cx="332.4" cy="955.4" r="2.8"/><circle cx="339.5" cy="933.5" r="2.8"/><circle cx="346.6" cy="917.4" r="2.8"/><circle cx="353.8" cy="905.2" r="2.8"/><circle cx="360.9" cy="896.3" r="2.8"/><circle cx="368.0" cy="889.4" r="2.8"/><circle cx="375.1" cy="884.4" r="2.8"/><circle cx="382.2" cy="880.2" r="2.8"/><circle cx="389.3" cy="877.0" r="2.8"/><circle cx="396.4" cy="874.6" r="2.8"/><circle cx="403.6" cy="872.5" r="2.8"/><circle cx="410.7" cy="870.9" r="2.8"/><circle cx="417.8" cy="869.6" r="2.8"/><circle cx="424.9" cy="868.5" r="2.8"/><circle cx="432.0" cy="867.8" r="2.8"/><circle cx="439.1" cy="867.3" r="2.8"/><circle cx="446.2" cy="866.8" r="2.8"/><circle cx="453.4" cy="866.4" r="2.8"/><circle cx="460.5" cy="866.1" r="2.8"/><circle cx="467.6" cy="865.9" r="2.8"/><circle cx="474.7" cy="865.7" r="2.8"/><circle cx="481.8" cy="865.5" r="2.8"/><circle cx="488.9" cy="865.3" r="2.8"/><circle cx="496.1" cy="865.1" r="2.8"/><circle cx="503.2" cy="864.9" r="2.8"/><circle cx="510.3" cy="864.6" r="2.8"/><circle cx="517.4" cy="864.4" r="2.8"/><circle cx="524.5" cy="864.1" r="2.8"/><circle cx="531.6" cy="863.9" r="2.8"/><circle cx="538.7" cy="863.7" r="2.8"/><circle cx="545.9" cy="863.6" r="2.8"/><circle cx="553.0" cy="863.5" r="2.8"/><circle cx="560.1" cy="863.5" r="2.8"/><circle cx="567.2" cy="863.5" r="2.8"/><circle cx="574.3" cy="863.5" r="2.8"/><circle cx="581.4" cy="863.5" r="2.8"/><circle cx="588.5" cy="863.5" r="2.8"/><circle cx="595.7" cy="863.5" r="2.8"/><circle cx="602.8" cy="863.5" r="2.8"/><circle cx="609.9" cy="863.5" r="2.8"/><circle cx="617.0" cy="863.5" r="2.8"/><circle cx="624.1" cy="863.5" r="2.8"/><circle cx="631.2" cy="863.5" r="2.8"/><circle cx="638.3" cy="863.5" r="2.8"/><circle cx="645.5" cy="863.5" r="2.8"/><circle cx="652.6" cy="863.5" r="2.8"/><circle cx="659.7" cy="863.5" r="2.8"/><circle cx="666.8" cy="863.5" r="2.8"/><circle cx="673.9" cy="863.5" r="2.8"/><circle cx="681.0" cy="863.5" r="2.8"/><circle cx="688.2" cy="863.5" r="2.8"/><circle cx="695.3" cy="863.5" r="2.8"/><circle cx="702.4" cy="863.5" r="2.8"/><circle cx="709.5" cy="863.0" r="2.8"/></g>
<line x1="485.1" y1="1072.0" x2="508.8" y2="1072.0" stroke="#3e6fc6" stroke-width="1.5"/>
<circle cx="497.0" cy="1072.0" r="2.4" fill="#3e6fc6"/>
<text transform="translate(510.22,1078.00) scale(1.0767,1)" font-size="18" fill="#404040" stroke="#404040" stroke-width="0.75" stroke-linejoin="round">Max</text>
<line x1="574.1" y1="1072.0" x2="597.4" y2="1072.0" stroke="#ed7b2f" stroke-width="1.5"/>
<circle cx="585.8" cy="1072.0" r="2.4" fill="#ed7b2f"/>
<text transform="translate(598.81,1078.00) scale(1.0867,1)" font-size="18" fill="#404040" stroke="#404040" stroke-width="0.75" stroke-linejoin="round">Mean</text>
<line x1="674.5" y1="1072.0" x2="697.8" y2="1072.0" stroke="#a5a5a5" stroke-width="1.5"/>
<circle cx="686.1" cy="1072.0" r="2.4" fill="#a5a5a5"/>
<text transform="translate(698.44,1078.00) scale(1.1596,1)" font-size="18" fill="#404040" stroke="#404040" stroke-width="0.75" stroke-linejoin="round">Min</text></g>
</svg>
</body></html>
